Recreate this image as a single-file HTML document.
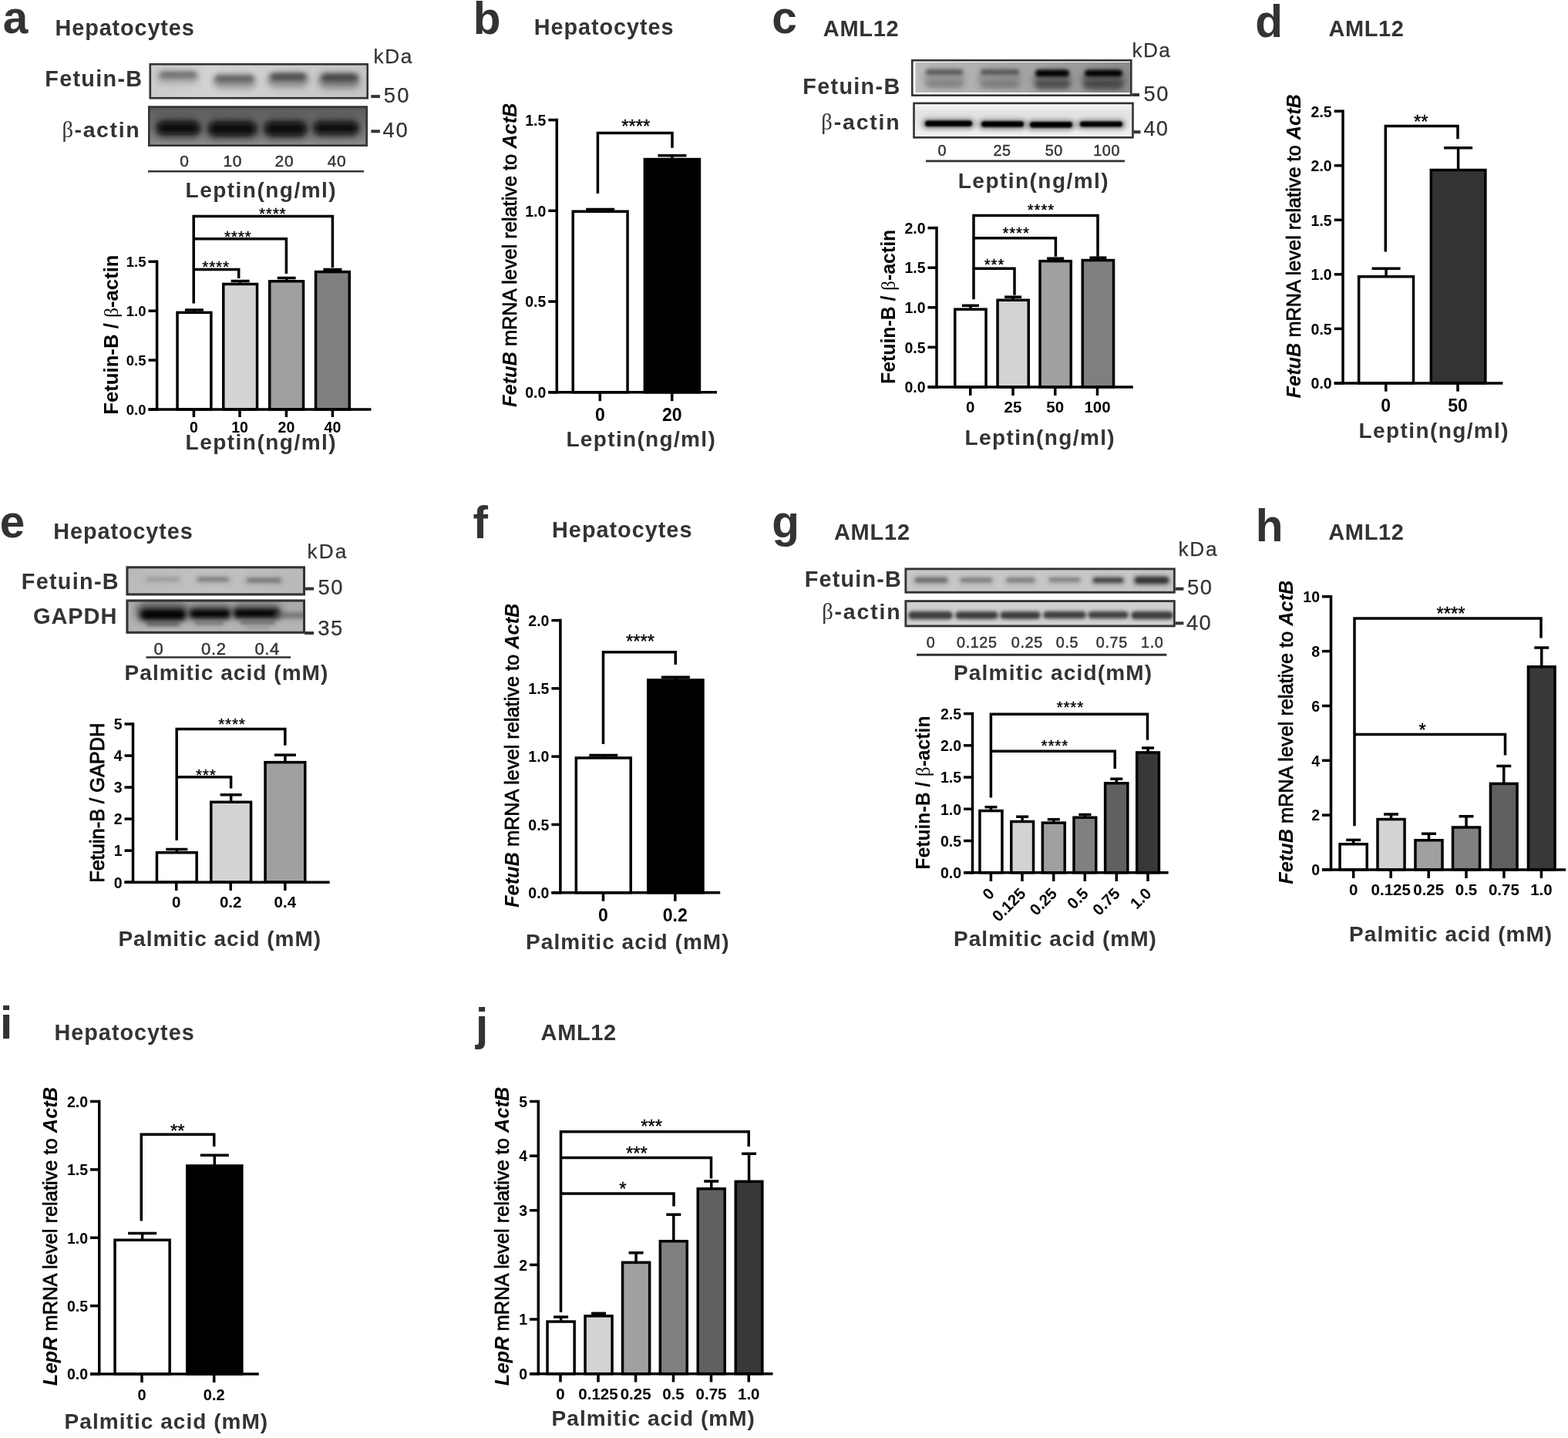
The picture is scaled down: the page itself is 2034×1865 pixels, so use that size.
<!DOCTYPE html>
<html><head><meta charset="utf-8"><title>Figure</title>
<style>
html,body{margin:0;padding:0;background:#fff;}
body{width:2034px;height:1865px;overflow:hidden;font-family:"Liberation Sans",sans-serif;}
svg{display:block}
text{white-space:pre}
</style></head><body>
<svg width="2034" height="1865" viewBox="0 0 2034 1865">
<defs>
<filter id="f1" x="-30%" y="-150%" width="160%" height="400%"><feGaussianBlur stdDeviation="1.3"/></filter>
<filter id="f2" x="-30%" y="-150%" width="160%" height="400%"><feGaussianBlur stdDeviation="2"/></filter>
<filter id="f3" x="-30%" y="-150%" width="160%" height="400%"><feGaussianBlur stdDeviation="3"/></filter>
<filter id="f4" x="-30%" y="-150%" width="160%" height="400%"><feGaussianBlur stdDeviation="4.5"/></filter>
</defs>
<rect width="2034" height="1865" fill="#fff"/>
<text x="3.75" y="43.30" font-size="58.50" fill="#333333" ><tspan font-family='"Liberation Sans", sans-serif' font-weight="bold">a</tspan></text>
<text x="613.70" y="43.80" font-size="58.50" fill="#333333" ><tspan font-family='"Liberation Sans", sans-serif' font-weight="bold">b</tspan></text>
<text x="1001.16" y="43.10" font-size="58.50" fill="#333333" ><tspan font-family='"Liberation Sans", sans-serif' font-weight="bold">c</tspan></text>
<text x="1628.36" y="48.30" font-size="58.50" fill="#333333" ><tspan font-family='"Liberation Sans", sans-serif' font-weight="bold">d</tspan></text>
<text x="-0.34" y="697.00" font-size="58.50" fill="#333333" ><tspan font-family='"Liberation Sans", sans-serif' font-weight="bold">e</tspan></text>
<text x="613.58" y="698.00" font-size="58.50" fill="#333333" ><tspan font-family='"Liberation Sans", sans-serif' font-weight="bold">f</tspan></text>
<text x="1001.26" y="696.80" font-size="58.50" fill="#333333" ><tspan font-family='"Liberation Sans", sans-serif' font-weight="bold">g</tspan></text>
<text x="1628.70" y="702.00" font-size="58.50" fill="#333333" ><tspan font-family='"Liberation Sans", sans-serif' font-weight="bold">h</tspan></text>
<text x="0.10" y="1347.30" font-size="58.50" fill="#333333" ><tspan font-family='"Liberation Sans", sans-serif' font-weight="bold">i</tspan></text>
<text x="616.88" y="1348.50" font-size="58.50" fill="#333333" ><tspan font-family='"Liberation Sans", sans-serif' font-weight="bold">j</tspan></text>
<text x="71.56" y="45.80" font-size="28.80" fill="#333333" textLength="180.15" lengthAdjust="spacing" ><tspan font-family='"Liberation Sans", sans-serif' font-weight="bold">Hepatocytes</tspan></text>
<text x="692.76" y="45.40" font-size="28.80" fill="#333333" textLength="180.65" lengthAdjust="spacing" ><tspan font-family='"Liberation Sans", sans-serif' font-weight="bold">Hepatocytes</tspan></text>
<text x="1067.78" y="47.10" font-size="29.00" fill="#333333" textLength="97.91" lengthAdjust="spacing" ><tspan font-family='"Liberation Sans", sans-serif' font-weight="bold">AML12</tspan></text>
<text x="1723.38" y="46.80" font-size="29.00" fill="#333333" textLength="97.61" lengthAdjust="spacing" ><tspan font-family='"Liberation Sans", sans-serif' font-weight="bold">AML12</tspan></text>
<text x="69.36" y="698.90" font-size="28.80" fill="#333333" textLength="180.35" lengthAdjust="spacing" ><tspan font-family='"Liberation Sans", sans-serif' font-weight="bold">Hepatocytes</tspan></text>
<text x="716.06" y="697.30" font-size="28.80" fill="#333333" textLength="181.35" lengthAdjust="spacing" ><tspan font-family='"Liberation Sans", sans-serif' font-weight="bold">Hepatocytes</tspan></text>
<text x="1081.88" y="699.70" font-size="29.00" fill="#333333" textLength="98.21" lengthAdjust="spacing" ><tspan font-family='"Liberation Sans", sans-serif' font-weight="bold">AML12</tspan></text>
<text x="1723.18" y="699.60" font-size="29.00" fill="#333333" textLength="97.81" lengthAdjust="spacing" ><tspan font-family='"Liberation Sans", sans-serif' font-weight="bold">AML12</tspan></text>
<text x="70.46" y="1349.40" font-size="28.80" fill="#333333" textLength="181.25" lengthAdjust="spacing" ><tspan font-family='"Liberation Sans", sans-serif' font-weight="bold">Hepatocytes</tspan></text>
<text x="701.57" y="1349.20" font-size="29.00" fill="#333333" textLength="97.61" lengthAdjust="spacing" ><tspan font-family='"Liberation Sans", sans-serif' font-weight="bold">AML12</tspan></text>
<text x="240.61" y="256.00" font-size="28.00" fill="#333333" textLength="194.98" lengthAdjust="spacing" ><tspan font-family='"Liberation Sans", sans-serif' font-weight="bold">Leptin(ng/ml)</tspan></text>
<text x="240.61" y="583.30" font-size="28.00" fill="#333333" textLength="194.98" lengthAdjust="spacing" ><tspan font-family='"Liberation Sans", sans-serif' font-weight="bold">Leptin(ng/ml)</tspan></text>
<text x="734.41" y="579.20" font-size="28.00" fill="#333333" textLength="193.38" lengthAdjust="spacing" ><tspan font-family='"Liberation Sans", sans-serif' font-weight="bold">Leptin(ng/ml)</tspan></text>
<text x="1242.81" y="243.90" font-size="28.00" fill="#333333" textLength="194.78" lengthAdjust="spacing" ><tspan font-family='"Liberation Sans", sans-serif' font-weight="bold">Leptin(ng/ml)</tspan></text>
<text x="1251.61" y="576.50" font-size="28.00" fill="#333333" textLength="194.08" lengthAdjust="spacing" ><tspan font-family='"Liberation Sans", sans-serif' font-weight="bold">Leptin(ng/ml)</tspan></text>
<text x="1762.61" y="567.50" font-size="28.00" fill="#333333" textLength="193.98" lengthAdjust="spacing" ><tspan font-family='"Liberation Sans", sans-serif' font-weight="bold">Leptin(ng/ml)</tspan></text>
<text x="161.61" y="882.20" font-size="28.00" fill="#333333" textLength="263.69" lengthAdjust="spacing" ><tspan font-family='"Liberation Sans", sans-serif' font-weight="bold">Palmitic acid (mM)</tspan></text>
<text x="153.41" y="1227.00" font-size="28.00" fill="#333333" textLength="262.69" lengthAdjust="spacing" ><tspan font-family='"Liberation Sans", sans-serif' font-weight="bold">Palmitic acid (mM)</tspan></text>
<text x="682.11" y="1230.60" font-size="28.00" fill="#333333" textLength="263.39" lengthAdjust="spacing" ><tspan font-family='"Liberation Sans", sans-serif' font-weight="bold">Palmitic acid (mM)</tspan></text>
<text x="1236.91" y="881.70" font-size="28.00" fill="#333333" textLength="257.28" lengthAdjust="spacing" ><tspan font-family='"Liberation Sans", sans-serif' font-weight="bold">Palmitic acid(mM)</tspan></text>
<text x="1237.11" y="1227.00" font-size="28.00" fill="#333333" textLength="262.79" lengthAdjust="spacing" ><tspan font-family='"Liberation Sans", sans-serif' font-weight="bold">Palmitic acid (mM)</tspan></text>
<text x="1750.11" y="1220.80" font-size="28.00" fill="#333333" textLength="263.09" lengthAdjust="spacing" ><tspan font-family='"Liberation Sans", sans-serif' font-weight="bold">Palmitic acid (mM)</tspan></text>
<text x="83.61" y="1853.30" font-size="28.00" fill="#333333" textLength="263.59" lengthAdjust="spacing" ><tspan font-family='"Liberation Sans", sans-serif' font-weight="bold">Palmitic acid (mM)</tspan></text>
<text x="715.61" y="1849.20" font-size="28.00" fill="#333333" textLength="263.29" lengthAdjust="spacing" ><tspan font-family='"Liberation Sans", sans-serif' font-weight="bold">Palmitic acid (mM)</tspan></text>
<text x="58.26" y="112.00" font-size="28.80" fill="#333333" textLength="125.83" lengthAdjust="spacing" ><tspan font-family='"Liberation Sans", sans-serif' font-weight="bold">Fetuin-B</tspan></text>
<text x="80.45" y="178.00" font-size="28.50" fill="#333333" textLength="100.12" lengthAdjust="spacing" ><tspan font-family='"Liberation Serif", serif' font-weight="normal">β</tspan><tspan font-family='"Liberation Sans", sans-serif' font-weight="bold">-actin</tspan></text>
<text x="1041.36" y="122.20" font-size="28.80" fill="#333333" textLength="125.83" lengthAdjust="spacing" ><tspan font-family='"Liberation Sans", sans-serif' font-weight="bold">Fetuin-B</tspan></text>
<text x="1065.35" y="167.50" font-size="28.50" fill="#333333" textLength="101.42" lengthAdjust="spacing" ><tspan font-family='"Liberation Serif", serif' font-weight="normal">β</tspan><tspan font-family='"Liberation Sans", sans-serif' font-weight="bold">-actin</tspan></text>
<text x="27.76" y="763.60" font-size="28.80" fill="#333333" textLength="125.83" lengthAdjust="spacing" ><tspan font-family='"Liberation Sans", sans-serif' font-weight="bold">Fetuin-B</tspan></text>
<text x="42.94" y="809.40" font-size="29.00" fill="#333333" textLength="108.49" lengthAdjust="spacing" ><tspan font-family='"Liberation Sans", sans-serif' font-weight="bold">GAPDH</tspan></text>
<text x="1043.86" y="761.40" font-size="28.80" fill="#333333" textLength="124.93" lengthAdjust="spacing" ><tspan font-family='"Liberation Sans", sans-serif' font-weight="bold">Fetuin-B</tspan></text>
<text x="1066.15" y="803.00" font-size="28.50" fill="#333333" textLength="101.62" lengthAdjust="spacing" ><tspan font-family='"Liberation Serif", serif' font-weight="normal">β</tspan><tspan font-family='"Liberation Sans", sans-serif' font-weight="bold">-actin</tspan></text>
<text x="484.43" y="82.10" font-size="26.20" fill="#333333" textLength="49.99" lengthAdjust="spacing" stroke="#333" stroke-width="0.25"><tspan font-family='"Liberation Sans", sans-serif' font-weight="normal">kDa</tspan></text>
<text x="497.80" y="132.50" font-size="27.40" fill="#333333" textLength="32.79" lengthAdjust="spacing" stroke="#333" stroke-width="0.25"><tspan font-family='"Liberation Sans", sans-serif' font-weight="normal">50</tspan></text>
<text x="496.48" y="177.90" font-size="27.40" fill="#333333" textLength="32.31" lengthAdjust="spacing" stroke="#333" stroke-width="0.25"><tspan font-family='"Liberation Sans", sans-serif' font-weight="normal">40</tspan></text>
<line x1="481.30" y1="125.10" x2="492.90" y2="125.10" stroke="#333333" stroke-width="4" stroke-linecap="butt"/>
<line x1="481.30" y1="170.30" x2="492.90" y2="170.30" stroke="#333333" stroke-width="4" stroke-linecap="butt"/>
<text x="1468.43" y="74.40" font-size="26.20" fill="#333333" textLength="49.39" lengthAdjust="spacing" stroke="#333" stroke-width="0.25"><tspan font-family='"Liberation Sans", sans-serif' font-weight="normal">kDa</tspan></text>
<text x="1483.50" y="130.80" font-size="27.40" fill="#333333" textLength="31.99" lengthAdjust="spacing" stroke="#333" stroke-width="0.25"><tspan font-family='"Liberation Sans", sans-serif' font-weight="normal">50</tspan></text>
<text x="1483.38" y="176.20" font-size="27.40" fill="#333333" textLength="31.71" lengthAdjust="spacing" stroke="#333" stroke-width="0.25"><tspan font-family='"Liberation Sans", sans-serif' font-weight="normal">40</tspan></text>
<line x1="1467.00" y1="123.00" x2="1478.00" y2="123.00" stroke="#333333" stroke-width="4" stroke-linecap="butt"/>
<line x1="1469.00" y1="171.20" x2="1479.50" y2="171.20" stroke="#333333" stroke-width="4" stroke-linecap="butt"/>
<text x="398.43" y="724.20" font-size="26.20" fill="#333333" textLength="50.99" lengthAdjust="spacing" stroke="#333" stroke-width="0.25"><tspan font-family='"Liberation Sans", sans-serif' font-weight="normal">kDa</tspan></text>
<text x="412.40" y="770.80" font-size="27.40" fill="#333333" textLength="31.99" lengthAdjust="spacing" stroke="#333" stroke-width="0.25"><tspan font-family='"Liberation Sans", sans-serif' font-weight="normal">50</tspan></text>
<text x="412.27" y="824.20" font-size="27.40" fill="#333333" textLength="31.89" lengthAdjust="spacing" stroke="#333" stroke-width="0.25"><tspan font-family='"Liberation Sans", sans-serif' font-weight="normal">35</tspan></text>
<line x1="395.00" y1="763.60" x2="407.00" y2="763.60" stroke="#333333" stroke-width="4" stroke-linecap="butt"/>
<line x1="395.00" y1="821.00" x2="407.00" y2="821.00" stroke="#333333" stroke-width="4" stroke-linecap="butt"/>
<text x="1528.43" y="721.00" font-size="26.20" fill="#333333" textLength="50.19" lengthAdjust="spacing" stroke="#333" stroke-width="0.25"><tspan font-family='"Liberation Sans", sans-serif' font-weight="normal">kDa</tspan></text>
<text x="1539.90" y="771.20" font-size="27.40" fill="#333333" textLength="32.19" lengthAdjust="spacing" stroke="#333" stroke-width="0.25"><tspan font-family='"Liberation Sans", sans-serif' font-weight="normal">50</tspan></text>
<text x="1539.08" y="816.60" font-size="27.40" fill="#333333" textLength="31.71" lengthAdjust="spacing" stroke="#333" stroke-width="0.25"><tspan font-family='"Liberation Sans", sans-serif' font-weight="normal">40</tspan></text>
<line x1="1523.50" y1="763.70" x2="1535.40" y2="763.70" stroke="#333333" stroke-width="4" stroke-linecap="butt"/>
<line x1="1523.50" y1="808.30" x2="1535.40" y2="808.30" stroke="#333333" stroke-width="4" stroke-linecap="butt"/>
<text x="239.30" y="216.00" font-size="21.00" font-family='"Liberation Sans", sans-serif' font-weight="normal" fill="#333333" text-anchor="middle" letter-spacing="0.6" stroke="#333" stroke-width="0.45">0</text>
<text x="301.70" y="216.00" font-size="21.00" font-family='"Liberation Sans", sans-serif' font-weight="normal" fill="#333333" text-anchor="middle" letter-spacing="0.6" stroke="#333" stroke-width="0.45">10</text>
<text x="368.90" y="216.00" font-size="21.00" font-family='"Liberation Sans", sans-serif' font-weight="normal" fill="#333333" text-anchor="middle" letter-spacing="0.6" stroke="#333" stroke-width="0.45">20</text>
<text x="437.00" y="216.00" font-size="21.00" font-family='"Liberation Sans", sans-serif' font-weight="normal" fill="#333333" text-anchor="middle" letter-spacing="0.6" stroke="#333" stroke-width="0.45">40</text>
<line x1="192.00" y1="222.20" x2="472.00" y2="222.20" stroke="#333333" stroke-width="2.4" stroke-linecap="butt"/>
<text x="1222.30" y="202.20" font-size="19.80" font-family='"Liberation Sans", sans-serif' font-weight="normal" fill="#333333" text-anchor="middle" letter-spacing="0.6" stroke="#333" stroke-width="0.45">0</text>
<text x="1300.00" y="202.20" font-size="19.80" font-family='"Liberation Sans", sans-serif' font-weight="normal" fill="#333333" text-anchor="middle" letter-spacing="0.6" stroke="#333" stroke-width="0.45">25</text>
<text x="1367.30" y="202.20" font-size="19.80" font-family='"Liberation Sans", sans-serif' font-weight="normal" fill="#333333" text-anchor="middle" letter-spacing="0.6" stroke="#333" stroke-width="0.45">50</text>
<text x="1435.60" y="202.20" font-size="19.80" font-family='"Liberation Sans", sans-serif' font-weight="normal" fill="#333333" text-anchor="middle" letter-spacing="0.6" stroke="#333" stroke-width="0.45">100</text>
<line x1="1201.00" y1="208.90" x2="1459.00" y2="208.90" stroke="#333333" stroke-width="2.9" stroke-linecap="butt"/>
<text x="205.90" y="848.50" font-size="22.00" font-family='"Liberation Sans", sans-serif' font-weight="normal" fill="#333333" text-anchor="middle" letter-spacing="0.6" stroke="#333" stroke-width="0.45">0</text>
<text x="277.30" y="848.50" font-size="22.00" font-family='"Liberation Sans", sans-serif' font-weight="normal" fill="#333333" text-anchor="middle" letter-spacing="0.6" stroke="#333" stroke-width="0.45">0.2</text>
<text x="346.70" y="848.50" font-size="22.00" font-family='"Liberation Sans", sans-serif' font-weight="normal" fill="#333333" text-anchor="middle" letter-spacing="0.6" stroke="#333" stroke-width="0.45">0.4</text>
<line x1="189.40" y1="852.50" x2="377.20" y2="852.50" stroke="#333333" stroke-width="2.4" stroke-linecap="butt"/>
<text x="1207.50" y="840.10" font-size="19.80" font-family='"Liberation Sans", sans-serif' font-weight="normal" fill="#333333" text-anchor="middle" letter-spacing="0.6" stroke="#333" stroke-width="0.45">0</text>
<text x="1267.30" y="840.10" font-size="19.80" font-family='"Liberation Sans", sans-serif' font-weight="normal" fill="#333333" text-anchor="middle" letter-spacing="0.6" stroke="#333" stroke-width="0.45">0.125</text>
<text x="1332.30" y="840.10" font-size="19.80" font-family='"Liberation Sans", sans-serif' font-weight="normal" fill="#333333" text-anchor="middle" letter-spacing="0.6" stroke="#333" stroke-width="0.45">0.25</text>
<text x="1384.50" y="840.10" font-size="19.80" font-family='"Liberation Sans", sans-serif' font-weight="normal" fill="#333333" text-anchor="middle" letter-spacing="0.6" stroke="#333" stroke-width="0.45">0.5</text>
<text x="1442.30" y="840.10" font-size="19.80" font-family='"Liberation Sans", sans-serif' font-weight="normal" fill="#333333" text-anchor="middle" letter-spacing="0.6" stroke="#333" stroke-width="0.45">0.75</text>
<text x="1494.70" y="840.10" font-size="19.80" font-family='"Liberation Sans", sans-serif' font-weight="normal" fill="#333333" text-anchor="middle" letter-spacing="0.6" stroke="#333" stroke-width="0.45">1.0</text>
<line x1="1189.00" y1="849.20" x2="1513.30" y2="849.20" stroke="#333333" stroke-width="2.9" stroke-linecap="butt"/>
<clipPath id="cpa1"><rect x="193.5" y="82" width="284.50" height="46.50"/></clipPath>
<linearGradient id="gra1" x1="0" y1="0" x2="1" y2="0"><stop offset="0" stop-color="#cbcbcb"/><stop offset="0.3" stop-color="#d3d3d3"/><stop offset="1" stop-color="#c4c4c4"/></linearGradient>
<rect x="193.50" y="82.00" width="284.50" height="46.50" fill="url(#gra1)" stroke="none" stroke-width="0" />
<g clip-path="url(#cpa1)">
<rect x="204.0" y="92.0" width="54.0" height="16.0" rx="8.0" fill="#8a8a8a" opacity="0.6" filter="url(#f4)"/>
<rect x="207.0" y="93.5" width="48.0" height="7.0" rx="3.5" fill="#555" opacity="0.8" filter="url(#f3)"/>
<rect x="276.0" y="97.0" width="56.0" height="18.0" rx="9.0" fill="#7c7c7c" opacity="0.65" filter="url(#f4)"/>
<rect x="279.0" y="98.0" width="50.0" height="8.0" rx="4.0" fill="#4c4c4c" opacity="0.8" filter="url(#f3)"/>
<rect x="347.0" y="95.0" width="53.0" height="18.0" rx="9.0" fill="#707070" opacity="0.7" filter="url(#f4)"/>
<rect x="351.0" y="95.5" width="46.0" height="8.0" rx="4.0" fill="#3a3a3a" opacity="0.9" filter="url(#f3)"/>
<rect x="413.0" y="95.5" width="54.0" height="19.0" rx="9.5" fill="#686868" opacity="0.75" filter="url(#f4)"/>
<rect x="417.0" y="96.0" width="47.0" height="9.0" rx="4.5" fill="#3a3a3a" opacity="0.9" filter="url(#f3)"/>
</g>
<rect x="194.80" y="83.30" width="281.90" height="43.90" fill="none" stroke="#333333" stroke-width="2.6" />
<clipPath id="cpa2"><rect x="192" y="137.5" width="285.00" height="52.50"/></clipPath>
<linearGradient id="gra2" x1="0" y1="0" x2="0" y2="1"><stop offset="0" stop-color="#585858"/><stop offset="0.25" stop-color="#666"/><stop offset="0.75" stop-color="#7e7e7e"/><stop offset="1" stop-color="#8e8e8e"/></linearGradient>
<rect x="192.00" y="137.50" width="285.00" height="52.50" fill="url(#gra2)" stroke="none" stroke-width="0" />
<g clip-path="url(#cpa2)">
<rect x="200.0" y="153.5" width="62.0" height="25.0" rx="12.5" fill="#2a2a2a" opacity="0.75" filter="url(#f4)"/>
<rect x="205.0" y="159.0" width="53.0" height="14.0" rx="7.0" fill="#0c0c0c" opacity="1" filter="url(#f3)"/>
<rect x="267.0" y="154.0" width="69.0" height="26.0" rx="13.0" fill="#2a2a2a" opacity="0.75" filter="url(#f4)"/>
<rect x="272.0" y="159.5" width="59.0" height="15.0" rx="7.5" fill="#0c0c0c" opacity="1" filter="url(#f3)"/>
<rect x="340.0" y="154.0" width="61.0" height="26.0" rx="13.0" fill="#2a2a2a" opacity="0.75" filter="url(#f4)"/>
<rect x="345.0" y="159.5" width="51.0" height="15.0" rx="7.5" fill="#0c0c0c" opacity="1" filter="url(#f3)"/>
<rect x="404.0" y="154.0" width="64.0" height="24.0" rx="12.0" fill="#2a2a2a" opacity="0.75" filter="url(#f4)"/>
<rect x="409.0" y="159.5" width="54.0" height="13.0" rx="6.5" fill="#0e0e0e" opacity="1" filter="url(#f3)"/>
</g>
<rect x="193.30" y="138.80" width="282.40" height="49.90" fill="none" stroke="#333333" stroke-width="2.6" />
<clipPath id="cpc1"><rect x="1187.5" y="81" width="278.80" height="39.00"/></clipPath>
<rect x="1182.00" y="77.00" width="286.60" height="48.00" fill="#fff" stroke="none" stroke-width="0" />
<linearGradient id="grc1" x1="0" y1="0" x2="1" y2="0"><stop offset="0" stop-color="#bcbcbc"/><stop offset="0.45" stop-color="#a8a8a8"/><stop offset="0.75" stop-color="#9a9a9a"/><stop offset="1" stop-color="#8a8a8a"/></linearGradient>
<rect x="1187.50" y="81.00" width="278.80" height="39.00" fill="url(#grc1)" stroke="none" stroke-width="0" />
<g clip-path="url(#cpc1)">
<rect x="1198.0" y="89.0" width="54.0" height="24.0" rx="12.0" fill="#777" opacity="0.5" filter="url(#f4)"/>
<rect x="1201.0" y="90.2" width="48.0" height="6.5" rx="3.2" fill="#4a4a4a" opacity="0.8" filter="url(#f2)"/>
<rect x="1201.0" y="105.0" width="48.0" height="8.0" rx="4.0" fill="#707070" opacity="0.6" filter="url(#f3)"/>
<rect x="1269.0" y="89.0" width="56.0" height="24.0" rx="12.0" fill="#777" opacity="0.5" filter="url(#f4)"/>
<rect x="1272.0" y="90.2" width="50.0" height="6.5" rx="3.2" fill="#484848" opacity="0.8" filter="url(#f2)"/>
<rect x="1272.0" y="105.5" width="50.0" height="8.0" rx="4.0" fill="#6a6a6a" opacity="0.6" filter="url(#f3)"/>
<rect x="1340.0" y="92.0" width="50.0" height="24.0" rx="12.0" fill="#555" opacity="0.6" filter="url(#f4)"/>
<rect x="1343.0" y="90.5" width="44.0" height="9.0" rx="4.5" fill="#000" opacity="1" filter="url(#f2)"/>
<rect x="1343.0" y="104.0" width="45.0" height="10.0" rx="5.0" fill="#3a3a3a" opacity="0.7" filter="url(#f3)"/>
<rect x="1403.0" y="92.0" width="56.0" height="24.0" rx="12.0" fill="#505050" opacity="0.65" filter="url(#f4)"/>
<rect x="1407.0" y="90.8" width="49.0" height="8.5" rx="4.2" fill="#000" opacity="1" filter="url(#f2)"/>
<rect x="1406.0" y="103.5" width="51.0" height="11.0" rx="5.5" fill="#3a3a3a" opacity="0.7" filter="url(#f3)"/>
</g>
<rect x="1183.30" y="78.30" width="284.00" height="45.40" fill="none" stroke="#333333" stroke-width="2.6" />
<clipPath id="cpc2"><rect x="1184.2" y="132.6" width="286.60" height="47.00"/></clipPath>
<linearGradient id="grc2" x1="0" y1="0" x2="0" y2="1"><stop offset="0" stop-color="#fafafa"/><stop offset="0.3" stop-color="#e2e2e2"/><stop offset="0.7" stop-color="#ebebeb"/><stop offset="1" stop-color="#f6f6f6"/></linearGradient>
<rect x="1184.20" y="132.60" width="286.60" height="47.00" fill="url(#grc2)" stroke="none" stroke-width="0" />
<g clip-path="url(#cpc2)">
<rect x="1196.0" y="154.0" width="69.0" height="13.0" rx="6.5" fill="#333" opacity="0.55" filter="url(#f3)"/>
<rect x="1200.0" y="156.6" width="61.0" height="7.5" rx="3.8" fill="#000" opacity="1" filter="url(#f1)"/>
<rect x="1269.0" y="154.7" width="63.0" height="13.0" rx="6.5" fill="#333" opacity="0.55" filter="url(#f3)"/>
<rect x="1273.0" y="157.2" width="55.0" height="7.5" rx="3.8" fill="#000" opacity="1" filter="url(#f1)"/>
<rect x="1332.0" y="155.5" width="63.0" height="13.0" rx="6.5" fill="#333" opacity="0.55" filter="url(#f3)"/>
<rect x="1336.0" y="158.1" width="55.0" height="7.5" rx="3.8" fill="#000" opacity="1" filter="url(#f1)"/>
<rect x="1397.0" y="155.2" width="63.0" height="12.0" rx="6.0" fill="#333" opacity="0.55" filter="url(#f3)"/>
<rect x="1401.0" y="157.5" width="55.0" height="7.0" rx="3.5" fill="#000" opacity="1" filter="url(#f1)"/>
</g>
<rect x="1185.50" y="133.90" width="284.00" height="44.40" fill="none" stroke="#333333" stroke-width="2.6" />
<clipPath id="cpe1"><rect x="163.5" y="734.3" width="232.50" height="38.10"/></clipPath>
<linearGradient id="gre1" x1="0" y1="0" x2="1" y2="0"><stop offset="0" stop-color="#bababa"/><stop offset="0.5" stop-color="#c2c2c2"/><stop offset="1" stop-color="#b8b8b8"/></linearGradient>
<rect x="163.50" y="734.30" width="232.50" height="38.10" fill="url(#gre1)" stroke="none" stroke-width="0" />
<g clip-path="url(#cpe1)">
<rect x="188.0" y="748.0" width="47.0" height="8.0" rx="4.0" fill="#a0a0a0" opacity="0.6" filter="url(#f3)"/>
<rect x="191.0" y="749.2" width="41.0" height="3.5" rx="1.8" fill="#909090" opacity="0.7" filter="url(#f2)"/>
<rect x="253.0" y="747.5" width="47.0" height="9.0" rx="4.5" fill="#909090" opacity="0.6" filter="url(#f3)"/>
<rect x="257.0" y="749.3" width="39.0" height="4.0" rx="2.0" fill="#6c6c6c" opacity="0.8" filter="url(#f2)"/>
<rect x="317.0" y="748.5" width="51.0" height="9.0" rx="4.5" fill="#8c8c8c" opacity="0.6" filter="url(#f3)"/>
<rect x="321.0" y="750.5" width="43.0" height="4.0" rx="2.0" fill="#646464" opacity="0.85" filter="url(#f2)"/>
</g>
<rect x="165.00" y="735.80" width="229.50" height="35.10" fill="none" stroke="#333333" stroke-width="3" />
<clipPath id="cpe2"><rect x="163.5" y="777.5" width="232.50" height="44.30"/></clipPath>
<linearGradient id="gre2" x1="0" y1="0" x2="0" y2="1"><stop offset="0" stop-color="#a8a8a8"/><stop offset="1" stop-color="#b6b6b6"/></linearGradient>
<rect x="163.50" y="777.50" width="232.50" height="44.30" fill="url(#gre2)" stroke="none" stroke-width="0" />
<g clip-path="url(#cpe2)">
<rect x="176.0" y="781.0" width="70.0" height="26.0" rx="13.0" fill="#404040" opacity="0.7" filter="url(#f4)"/>
<rect x="182.0" y="790.5" width="59.0" height="13.0" rx="6.5" fill="#000" opacity="1" filter="url(#f3)"/>
<rect x="190.0" y="807.5" width="43.0" height="4.0" rx="2.0" fill="#333" opacity="0.7" filter="url(#f2)"/>
<rect x="243.0" y="783.0" width="59.0" height="22.0" rx="11.0" fill="#484848" opacity="0.65" filter="url(#f4)"/>
<rect x="246.0" y="790.5" width="53.0" height="11.0" rx="5.5" fill="#050505" opacity="1" filter="url(#f3)"/>
<rect x="252.0" y="806.8" width="38.0" height="3.5" rx="1.8" fill="#4a4a4a" opacity="0.6" filter="url(#f2)"/>
<rect x="300.0" y="782.0" width="66.0" height="22.0" rx="11.0" fill="#484848" opacity="0.65" filter="url(#f4)"/>
<rect x="303.0" y="790.0" width="59.0" height="11.0" rx="5.5" fill="#050505" opacity="1" filter="url(#f3)"/>
<rect x="312.0" y="805.5" width="45.0" height="4.0" rx="2.0" fill="#444" opacity="0.65" filter="url(#f2)"/>
<rect x="318.0" y="812.5" width="32.0" height="3.0" rx="1.5" fill="#777" opacity="0.5" filter="url(#f2)"/>
<rect x="355.0" y="795.0" width="43.0" height="6.0" rx="3.0" fill="#505050" opacity="0.8" filter="url(#f3)"/>
</g>
<rect x="165.00" y="779.00" width="229.50" height="41.30" fill="none" stroke="#333333" stroke-width="3" />
<clipPath id="cpg1"><rect x="1173.5" y="736.5" width="351.20" height="33.10"/></clipPath>
<rect x="1173.50" y="736.50" width="351.20" height="33.10" fill="#c8c8c8" stroke="none" stroke-width="0" />
<g clip-path="url(#cpg1)">
<rect x="1184.0" y="747.0" width="48.0" height="12.0" rx="6.0" fill="#909090" opacity="0.55" filter="url(#f3)"/>
<rect x="1187.0" y="749.5" width="42.0" height="5.5" rx="2.8" fill="#5c5c5c" opacity="0.85" filter="url(#f2)"/>
<rect x="1243.0" y="747.5" width="47.0" height="11.0" rx="5.5" fill="#9a9a9a" opacity="0.5" filter="url(#f3)"/>
<rect x="1246.0" y="749.7" width="41.0" height="5.0" rx="2.5" fill="#707070" opacity="0.85" filter="url(#f2)"/>
<rect x="1303.0" y="747.5" width="42.0" height="11.0" rx="5.5" fill="#9a9a9a" opacity="0.5" filter="url(#f3)"/>
<rect x="1306.0" y="749.7" width="36.0" height="5.0" rx="2.5" fill="#6e6e6e" opacity="0.85" filter="url(#f2)"/>
<rect x="1358.0" y="748.0" width="46.0" height="10.0" rx="5.0" fill="#9a9a9a" opacity="0.5" filter="url(#f3)"/>
<rect x="1361.0" y="749.5" width="40.0" height="4.5" rx="2.2" fill="#707070" opacity="0.85" filter="url(#f2)"/>
<rect x="1415.0" y="747.5" width="45.0" height="11.0" rx="5.5" fill="#808080" opacity="0.55" filter="url(#f3)"/>
<rect x="1418.0" y="749.5" width="39.0" height="6.0" rx="3.0" fill="#3c3c3c" opacity="1" filter="url(#f2)"/>
<rect x="1469.0" y="746.5" width="50.0" height="13.0" rx="6.5" fill="#707070" opacity="0.6" filter="url(#f3)"/>
<rect x="1472.0" y="748.2" width="44.0" height="8.5" rx="4.2" fill="#363636" opacity="1" filter="url(#f2)"/>
</g>
<rect x="1174.90" y="737.90" width="348.40" height="30.30" fill="none" stroke="#333333" stroke-width="2.8" />
<clipPath id="cpg2"><rect x="1173.5" y="778.2" width="351.20" height="35.10"/></clipPath>
<rect x="1173.50" y="778.20" width="351.20" height="35.10" fill="#d0d0d0" stroke="none" stroke-width="0" />
<g clip-path="url(#cpg2)">
<rect x="1178.0" y="792.8" width="58.0" height="10.5" rx="5.2" fill="#3e3e3e" opacity="1" filter="url(#f2)"/>
<rect x="1239.0" y="793.0" width="56.0" height="10.0" rx="5.0" fill="#3e3e3e" opacity="1" filter="url(#f2)"/>
<rect x="1297.0" y="793.0" width="53.0" height="10.0" rx="5.0" fill="#3e3e3e" opacity="1" filter="url(#f2)"/>
<rect x="1353.0" y="792.8" width="56.0" height="9.5" rx="4.8" fill="#3e3e3e" opacity="1" filter="url(#f2)"/>
<rect x="1411.0" y="792.8" width="53.0" height="9.5" rx="4.8" fill="#424242" opacity="1" filter="url(#f2)"/>
<rect x="1467.0" y="792.8" width="55.0" height="10.5" rx="5.2" fill="#3e3e3e" opacity="1" filter="url(#f2)"/>
</g>
<rect x="1174.90" y="779.60" width="348.40" height="32.30" fill="none" stroke="#333333" stroke-width="2.8" />
<line x1="251.95" y1="405.35" x2="251.95" y2="402.00" stroke="#000" stroke-width="3.5" stroke-linecap="butt"/>
<line x1="239.95" y1="402.00" x2="263.95" y2="402.00" stroke="#000" stroke-width="3.5" stroke-linecap="butt"/>
<rect x="230.05" y="405.35" width="43.80" height="125.65" fill="#fff" stroke="#000" stroke-width="3.5" />
<line x1="311.65" y1="368.45" x2="311.65" y2="364.50" stroke="#000" stroke-width="3.5" stroke-linecap="butt"/>
<line x1="299.65" y1="364.50" x2="323.65" y2="364.50" stroke="#000" stroke-width="3.5" stroke-linecap="butt"/>
<rect x="289.75" y="368.45" width="43.80" height="162.55" fill="#d3d3d3" stroke="#000" stroke-width="3.5" />
<line x1="371.65" y1="364.75" x2="371.65" y2="360.50" stroke="#000" stroke-width="3.5" stroke-linecap="butt"/>
<line x1="359.65" y1="360.50" x2="383.65" y2="360.50" stroke="#000" stroke-width="3.5" stroke-linecap="butt"/>
<rect x="349.75" y="364.75" width="43.80" height="166.25" fill="#a0a0a0" stroke="#000" stroke-width="3.5" />
<line x1="431.40" y1="352.55" x2="431.40" y2="349.50" stroke="#000" stroke-width="3.5" stroke-linecap="butt"/>
<line x1="419.40" y1="349.50" x2="443.40" y2="349.50" stroke="#000" stroke-width="3.5" stroke-linecap="butt"/>
<rect x="409.55" y="352.55" width="43.70" height="178.45" fill="#7f7f7f" stroke="#000" stroke-width="3.5" />
<line x1="203.60" y1="337.55" x2="203.60" y2="532.75" stroke="#000" stroke-width="3.5" stroke-linecap="butt"/>
<line x1="192.50" y1="531.00" x2="481.40" y2="531.00" stroke="#000" stroke-width="3.5" stroke-linecap="butt"/>
<line x1="192.50" y1="339.30" x2="203.60" y2="339.30" stroke="#000" stroke-width="3.5" stroke-linecap="butt"/>
<text x="189.50" y="346.24" font-size="18.50" font-family='"Liberation Sans", sans-serif' font-weight="bold" fill="#000" text-anchor="end" >1.5</text>
<line x1="192.50" y1="403.20" x2="203.60" y2="403.20" stroke="#000" stroke-width="3.5" stroke-linecap="butt"/>
<text x="189.50" y="410.14" font-size="18.50" font-family='"Liberation Sans", sans-serif' font-weight="bold" fill="#000" text-anchor="end" >1.0</text>
<line x1="192.50" y1="467.10" x2="203.60" y2="467.10" stroke="#000" stroke-width="3.5" stroke-linecap="butt"/>
<text x="189.50" y="474.04" font-size="18.50" font-family='"Liberation Sans", sans-serif' font-weight="bold" fill="#000" text-anchor="end" >0.5</text>
<line x1="192.50" y1="531.00" x2="203.60" y2="531.00" stroke="#000" stroke-width="3.5" stroke-linecap="butt"/>
<text x="189.50" y="537.94" font-size="18.50" font-family='"Liberation Sans", sans-serif' font-weight="bold" fill="#000" text-anchor="end" >0.0</text>
<line x1="251.40" y1="531.00" x2="251.40" y2="541.00" stroke="#000" stroke-width="3.5" stroke-linecap="butt"/>
<text x="251.40" y="560.50" font-size="19.50" font-family='"Liberation Sans", sans-serif' font-weight="bold" fill="#000" text-anchor="middle" >0</text>
<line x1="311.00" y1="531.00" x2="311.00" y2="541.00" stroke="#000" stroke-width="3.5" stroke-linecap="butt"/>
<text x="311.00" y="560.50" font-size="19.50" font-family='"Liberation Sans", sans-serif' font-weight="bold" fill="#000" text-anchor="middle" >10</text>
<line x1="371.40" y1="531.00" x2="371.40" y2="541.00" stroke="#000" stroke-width="3.5" stroke-linecap="butt"/>
<text x="371.40" y="560.50" font-size="19.50" font-family='"Liberation Sans", sans-serif' font-weight="bold" fill="#000" text-anchor="middle" >20</text>
<line x1="431.40" y1="531.00" x2="431.40" y2="541.00" stroke="#000" stroke-width="3.5" stroke-linecap="butt"/>
<text x="431.40" y="560.50" font-size="19.50" font-family='"Liberation Sans", sans-serif' font-weight="bold" fill="#000" text-anchor="middle" >40</text>
<path d="M251.20 393.50 V280.50 H431.40 V347.00" fill="none" stroke="#000" stroke-width="3.5" stroke-linejoin="miter"/>
<path d="M251.20 309.80 H371.40 V355.00" fill="none" stroke="#000" stroke-width="3.5" stroke-linejoin="miter"/>
<path d="M251.20 349.60 H309.70 V361.00" fill="none" stroke="#000" stroke-width="3.5" stroke-linejoin="miter"/>
<text x="353.65" y="284.36" font-size="21.00" font-family='"Liberation Sans", sans-serif' font-weight="normal" fill="#000" text-anchor="middle" stroke="#000" stroke-width="0.35" letter-spacing="0.7">****</text>
<text x="308.65" y="313.56" font-size="21.00" font-family='"Liberation Sans", sans-serif' font-weight="normal" fill="#000" text-anchor="middle" stroke="#000" stroke-width="0.35" letter-spacing="0.7">****</text>
<text x="280.05" y="353.06" font-size="21.00" font-family='"Liberation Sans", sans-serif' font-weight="normal" fill="#000" text-anchor="middle" stroke="#000" stroke-width="0.35" letter-spacing="0.7">****</text>
<text transform="translate(152.50,536.00) rotate(-90)" x="-1.74" y="0" font-size="25.00" fill="#000" textLength="207.33" lengthAdjust="spacingAndGlyphs" ><tspan font-family='"Liberation Sans", sans-serif' font-weight="bold">Fetuin-B / </tspan><tspan font-family='"Liberation Serif", serif' font-weight="normal">β</tspan><tspan font-family='"Liberation Sans", sans-serif' font-weight="bold">-actin</tspan></text>
<line x1="778.65" y1="274.25" x2="778.65" y2="271.50" stroke="#000" stroke-width="3.5" stroke-linecap="butt"/>
<line x1="760.15" y1="271.50" x2="797.15" y2="271.50" stroke="#000" stroke-width="3.5" stroke-linecap="butt"/>
<rect x="743.25" y="274.25" width="70.80" height="234.50" fill="#fff" stroke="#000" stroke-width="3.5" />
<line x1="871.90" y1="206.55" x2="871.90" y2="201.70" stroke="#000" stroke-width="3.5" stroke-linecap="butt"/>
<line x1="853.40" y1="201.70" x2="890.40" y2="201.70" stroke="#000" stroke-width="3.5" stroke-linecap="butt"/>
<rect x="836.35" y="206.55" width="71.10" height="302.20" fill="#000" stroke="#000" stroke-width="3.5" />
<line x1="722.30" y1="153.85" x2="722.30" y2="510.50" stroke="#000" stroke-width="3.5" stroke-linecap="butt"/>
<line x1="711.30" y1="508.75" x2="930.00" y2="508.75" stroke="#000" stroke-width="3.5" stroke-linecap="butt"/>
<line x1="711.30" y1="155.60" x2="722.30" y2="155.60" stroke="#000" stroke-width="3.5" stroke-linecap="butt"/>
<text x="708.30" y="162.91" font-size="19.50" font-family='"Liberation Sans", sans-serif' font-weight="bold" fill="#000" text-anchor="end" >1.5</text>
<line x1="711.30" y1="273.32" x2="722.30" y2="273.32" stroke="#000" stroke-width="3.5" stroke-linecap="butt"/>
<text x="708.30" y="280.63" font-size="19.50" font-family='"Liberation Sans", sans-serif' font-weight="bold" fill="#000" text-anchor="end" >1.0</text>
<line x1="711.30" y1="391.03" x2="722.30" y2="391.03" stroke="#000" stroke-width="3.5" stroke-linecap="butt"/>
<text x="708.30" y="398.35" font-size="19.50" font-family='"Liberation Sans", sans-serif' font-weight="bold" fill="#000" text-anchor="end" >0.5</text>
<line x1="711.30" y1="508.75" x2="722.30" y2="508.75" stroke="#000" stroke-width="3.5" stroke-linecap="butt"/>
<text x="708.30" y="516.06" font-size="19.50" font-family='"Liberation Sans", sans-serif' font-weight="bold" fill="#000" text-anchor="end" >0.0</text>
<line x1="778.30" y1="508.75" x2="778.30" y2="520.20" stroke="#000" stroke-width="3.5" stroke-linecap="butt"/>
<text x="778.30" y="545.80" font-size="23.00" font-family='"Liberation Sans", sans-serif' font-weight="bold" fill="#000" text-anchor="middle" >0</text>
<line x1="871.70" y1="508.75" x2="871.70" y2="520.20" stroke="#000" stroke-width="3.5" stroke-linecap="butt"/>
<text x="871.70" y="545.80" font-size="23.00" font-family='"Liberation Sans", sans-serif' font-weight="bold" fill="#000" text-anchor="middle" >20</text>
<path d="M775.40 251.00 V172.50 H872.00 V191.70" fill="none" stroke="#000" stroke-width="3.5" stroke-linejoin="miter"/>
<text x="824.80" y="171.60" font-size="23.80" font-family='"Liberation Sans", sans-serif' font-weight="normal" fill="#000" text-anchor="middle" stroke="#000" stroke-width="0.35" letter-spacing="0">****</text>
<text transform="translate(669.60,527.50) rotate(-90)" x="-0.44" y="0" font-size="26.20" fill="#000" textLength="394.36" lengthAdjust="spacingAndGlyphs" ><tspan font-family='"Liberation Sans", sans-serif' font-weight="bold" font-style="italic">FetuB</tspan><tspan font-family='"Liberation Sans", sans-serif' font-weight="normal" stroke="#000" stroke-width="0.7"> mRNA level relative to </tspan><tspan font-family='"Liberation Sans", sans-serif' font-weight="bold" font-style="italic">ActB</tspan></text>
<line x1="1258.90" y1="401.15" x2="1258.90" y2="396.30" stroke="#000" stroke-width="3.5" stroke-linecap="butt"/>
<line x1="1247.90" y1="396.30" x2="1269.90" y2="396.30" stroke="#000" stroke-width="3.5" stroke-linecap="butt"/>
<rect x="1238.75" y="401.15" width="40.30" height="100.75" fill="#fff" stroke="#000" stroke-width="3.5" />
<line x1="1314.15" y1="389.25" x2="1314.15" y2="385.20" stroke="#000" stroke-width="3.5" stroke-linecap="butt"/>
<line x1="1303.15" y1="385.20" x2="1325.15" y2="385.20" stroke="#000" stroke-width="3.5" stroke-linecap="butt"/>
<rect x="1294.05" y="389.25" width="40.20" height="112.65" fill="#d3d3d3" stroke="#000" stroke-width="3.5" />
<line x1="1369.15" y1="338.65" x2="1369.15" y2="335.20" stroke="#000" stroke-width="3.5" stroke-linecap="butt"/>
<line x1="1358.15" y1="335.20" x2="1380.15" y2="335.20" stroke="#000" stroke-width="3.5" stroke-linecap="butt"/>
<rect x="1349.05" y="338.65" width="40.20" height="163.25" fill="#a0a0a0" stroke="#000" stroke-width="3.5" />
<line x1="1424.40" y1="337.55" x2="1424.40" y2="334.20" stroke="#000" stroke-width="3.5" stroke-linecap="butt"/>
<line x1="1413.40" y1="334.20" x2="1435.40" y2="334.20" stroke="#000" stroke-width="3.5" stroke-linecap="butt"/>
<rect x="1404.25" y="337.55" width="40.30" height="164.35" fill="#7f7f7f" stroke="#000" stroke-width="3.5" />
<line x1="1215.00" y1="293.85" x2="1215.00" y2="503.65" stroke="#000" stroke-width="3.5" stroke-linecap="butt"/>
<line x1="1203.50" y1="501.90" x2="1469.80" y2="501.90" stroke="#000" stroke-width="3.5" stroke-linecap="butt"/>
<line x1="1203.50" y1="295.60" x2="1215.00" y2="295.60" stroke="#000" stroke-width="3.5" stroke-linecap="butt"/>
<text x="1200.50" y="302.91" font-size="19.50" font-family='"Liberation Sans", sans-serif' font-weight="bold" fill="#000" text-anchor="end" >2.0</text>
<line x1="1203.50" y1="347.18" x2="1215.00" y2="347.18" stroke="#000" stroke-width="3.5" stroke-linecap="butt"/>
<text x="1200.50" y="354.49" font-size="19.50" font-family='"Liberation Sans", sans-serif' font-weight="bold" fill="#000" text-anchor="end" >1.5</text>
<line x1="1203.50" y1="398.75" x2="1215.00" y2="398.75" stroke="#000" stroke-width="3.5" stroke-linecap="butt"/>
<text x="1200.50" y="406.06" font-size="19.50" font-family='"Liberation Sans", sans-serif' font-weight="bold" fill="#000" text-anchor="end" >1.0</text>
<line x1="1203.50" y1="450.32" x2="1215.00" y2="450.32" stroke="#000" stroke-width="3.5" stroke-linecap="butt"/>
<text x="1200.50" y="457.64" font-size="19.50" font-family='"Liberation Sans", sans-serif' font-weight="bold" fill="#000" text-anchor="end" >0.5</text>
<line x1="1203.50" y1="501.90" x2="1215.00" y2="501.90" stroke="#000" stroke-width="3.5" stroke-linecap="butt"/>
<text x="1200.50" y="509.21" font-size="19.50" font-family='"Liberation Sans", sans-serif' font-weight="bold" fill="#000" text-anchor="end" >0.0</text>
<line x1="1258.75" y1="501.90" x2="1258.75" y2="513.00" stroke="#000" stroke-width="3.5" stroke-linecap="butt"/>
<text x="1258.75" y="535.00" font-size="20.50" font-family='"Liberation Sans", sans-serif' font-weight="bold" fill="#000" text-anchor="middle" >0</text>
<line x1="1314.00" y1="501.90" x2="1314.00" y2="513.00" stroke="#000" stroke-width="3.5" stroke-linecap="butt"/>
<text x="1314.00" y="535.00" font-size="20.50" font-family='"Liberation Sans", sans-serif' font-weight="bold" fill="#000" text-anchor="middle" >25</text>
<line x1="1368.75" y1="501.90" x2="1368.75" y2="513.00" stroke="#000" stroke-width="3.5" stroke-linecap="butt"/>
<text x="1368.75" y="535.00" font-size="20.50" font-family='"Liberation Sans", sans-serif' font-weight="bold" fill="#000" text-anchor="middle" >50</text>
<line x1="1423.50" y1="501.90" x2="1423.50" y2="513.00" stroke="#000" stroke-width="3.5" stroke-linecap="butt"/>
<text x="1423.50" y="535.00" font-size="20.50" font-family='"Liberation Sans", sans-serif' font-weight="bold" fill="#000" text-anchor="middle" >100</text>
<path d="M1263.00 388.30 V279.60 H1424.00 V332.70" fill="none" stroke="#000" stroke-width="3.5" stroke-linejoin="miter"/>
<path d="M1263.00 308.75 H1369.40 V332.70" fill="none" stroke="#000" stroke-width="3.5" stroke-linejoin="miter"/>
<path d="M1263.00 348.30 H1316.00 V382.70" fill="none" stroke="#000" stroke-width="3.5" stroke-linejoin="miter"/>
<text x="1350.42" y="278.81" font-size="20.50" font-family='"Liberation Sans", sans-serif' font-weight="normal" fill="#000" text-anchor="middle" stroke="#000" stroke-width="0.35" letter-spacing="0.85">****</text>
<text x="1318.12" y="308.81" font-size="20.50" font-family='"Liberation Sans", sans-serif' font-weight="normal" fill="#000" text-anchor="middle" stroke="#000" stroke-width="0.35" letter-spacing="0.85">****</text>
<text x="1290.02" y="349.81" font-size="20.50" font-family='"Liberation Sans", sans-serif' font-weight="normal" fill="#000" text-anchor="middle" stroke="#000" stroke-width="0.35" letter-spacing="0.85">***</text>
<text transform="translate(1160.50,496.30) rotate(-90)" x="-1.68" y="0" font-size="25.00" fill="#000" textLength="200.22" lengthAdjust="spacingAndGlyphs" ><tspan font-family='"Liberation Sans", sans-serif' font-weight="bold">Fetuin-B / </tspan><tspan font-family='"Liberation Serif", serif' font-weight="normal">β</tspan><tspan font-family='"Liberation Sans", sans-serif' font-weight="bold">-actin</tspan></text>
<line x1="1798.08" y1="358.75" x2="1798.08" y2="348.30" stroke="#000" stroke-width="3.5" stroke-linecap="butt"/>
<line x1="1779.58" y1="348.30" x2="1816.58" y2="348.30" stroke="#000" stroke-width="3.5" stroke-linecap="butt"/>
<rect x="1762.65" y="358.75" width="70.85" height="138.15" fill="#fff" stroke="#000" stroke-width="3.5" />
<line x1="1891.60" y1="220.50" x2="1891.60" y2="191.70" stroke="#000" stroke-width="3.5" stroke-linecap="butt"/>
<line x1="1873.10" y1="191.70" x2="1910.10" y2="191.70" stroke="#000" stroke-width="3.5" stroke-linecap="butt"/>
<rect x="1856.35" y="220.50" width="70.50" height="276.40" fill="#333" stroke="#000" stroke-width="3.5" />
<line x1="1742.00" y1="142.45" x2="1742.00" y2="498.65" stroke="#000" stroke-width="3.5" stroke-linecap="butt"/>
<line x1="1730.70" y1="496.90" x2="1949.40" y2="496.90" stroke="#000" stroke-width="3.5" stroke-linecap="butt"/>
<line x1="1730.70" y1="144.20" x2="1742.00" y2="144.20" stroke="#000" stroke-width="3.5" stroke-linecap="butt"/>
<text x="1727.70" y="151.51" font-size="19.50" font-family='"Liberation Sans", sans-serif' font-weight="bold" fill="#000" text-anchor="end" >2.5</text>
<line x1="1730.70" y1="214.74" x2="1742.00" y2="214.74" stroke="#000" stroke-width="3.5" stroke-linecap="butt"/>
<text x="1727.70" y="222.05" font-size="19.50" font-family='"Liberation Sans", sans-serif' font-weight="bold" fill="#000" text-anchor="end" >2.0</text>
<line x1="1730.70" y1="285.28" x2="1742.00" y2="285.28" stroke="#000" stroke-width="3.5" stroke-linecap="butt"/>
<text x="1727.70" y="292.59" font-size="19.50" font-family='"Liberation Sans", sans-serif' font-weight="bold" fill="#000" text-anchor="end" >1.5</text>
<line x1="1730.70" y1="355.82" x2="1742.00" y2="355.82" stroke="#000" stroke-width="3.5" stroke-linecap="butt"/>
<text x="1727.70" y="363.13" font-size="19.50" font-family='"Liberation Sans", sans-serif' font-weight="bold" fill="#000" text-anchor="end" >1.0</text>
<line x1="1730.70" y1="426.36" x2="1742.00" y2="426.36" stroke="#000" stroke-width="3.5" stroke-linecap="butt"/>
<text x="1727.70" y="433.67" font-size="19.50" font-family='"Liberation Sans", sans-serif' font-weight="bold" fill="#000" text-anchor="end" >0.5</text>
<line x1="1730.70" y1="496.90" x2="1742.00" y2="496.90" stroke="#000" stroke-width="3.5" stroke-linecap="butt"/>
<text x="1727.70" y="504.21" font-size="19.50" font-family='"Liberation Sans", sans-serif' font-weight="bold" fill="#000" text-anchor="end" >0.0</text>
<line x1="1797.75" y1="496.90" x2="1797.75" y2="507.70" stroke="#000" stroke-width="3.5" stroke-linecap="butt"/>
<text x="1797.75" y="533.75" font-size="23.00" font-family='"Liberation Sans", sans-serif' font-weight="bold" fill="#000" text-anchor="middle" >0</text>
<line x1="1891.00" y1="496.90" x2="1891.00" y2="507.70" stroke="#000" stroke-width="3.5" stroke-linecap="butt"/>
<text x="1891.00" y="533.75" font-size="23.00" font-family='"Liberation Sans", sans-serif' font-weight="bold" fill="#000" text-anchor="middle" >50</text>
<path d="M1797.30 326.50 V163.50 H1891.00 V180.20" fill="none" stroke="#000" stroke-width="3.5" stroke-linejoin="miter"/>
<text x="1843.20" y="166.20" font-size="23.80" font-family='"Liberation Sans", sans-serif' font-weight="normal" fill="#000" text-anchor="middle" stroke="#000" stroke-width="0.35" letter-spacing="0">**</text>
<text transform="translate(1686.50,516.00) rotate(-90)" x="-0.44" y="0" font-size="26.20" fill="#000" textLength="394.36" lengthAdjust="spacingAndGlyphs" ><tspan font-family='"Liberation Sans", sans-serif' font-weight="bold" font-style="italic">FetuB</tspan><tspan font-family='"Liberation Sans", sans-serif' font-weight="normal" stroke="#000" stroke-width="0.7"> mRNA level relative to </tspan><tspan font-family='"Liberation Sans", sans-serif' font-weight="bold" font-style="italic">ActB</tspan></text>
<line x1="229.30" y1="1105.75" x2="229.30" y2="1101.50" stroke="#000" stroke-width="3.5" stroke-linecap="butt"/>
<line x1="215.30" y1="1101.50" x2="243.30" y2="1101.50" stroke="#000" stroke-width="3.5" stroke-linecap="butt"/>
<rect x="203.45" y="1105.75" width="51.70" height="38.45" fill="#fff" stroke="#000" stroke-width="3.5" />
<line x1="299.65" y1="1040.25" x2="299.65" y2="1030.80" stroke="#000" stroke-width="3.5" stroke-linecap="butt"/>
<line x1="285.65" y1="1030.80" x2="313.65" y2="1030.80" stroke="#000" stroke-width="3.5" stroke-linecap="butt"/>
<rect x="273.75" y="1040.25" width="51.80" height="103.95" fill="#d3d3d3" stroke="#000" stroke-width="3.5" />
<line x1="369.90" y1="988.65" x2="369.90" y2="979.20" stroke="#000" stroke-width="3.5" stroke-linecap="butt"/>
<line x1="355.90" y1="979.20" x2="383.90" y2="979.20" stroke="#000" stroke-width="3.5" stroke-linecap="butt"/>
<rect x="344.05" y="988.65" width="51.70" height="155.55" fill="#a0a0a0" stroke="#000" stroke-width="3.5" />
<line x1="172.50" y1="937.25" x2="172.50" y2="1145.95" stroke="#000" stroke-width="3.5" stroke-linecap="butt"/>
<line x1="161.50" y1="1144.20" x2="427.70" y2="1144.20" stroke="#000" stroke-width="3.5" stroke-linecap="butt"/>
<line x1="161.50" y1="939.00" x2="172.50" y2="939.00" stroke="#000" stroke-width="3.5" stroke-linecap="butt"/>
<text x="158.50" y="946.31" font-size="19.50" font-family='"Liberation Sans", sans-serif' font-weight="bold" fill="#000" text-anchor="end" >5</text>
<line x1="161.50" y1="980.04" x2="172.50" y2="980.04" stroke="#000" stroke-width="3.5" stroke-linecap="butt"/>
<text x="158.50" y="987.35" font-size="19.50" font-family='"Liberation Sans", sans-serif' font-weight="bold" fill="#000" text-anchor="end" >4</text>
<line x1="161.50" y1="1021.08" x2="172.50" y2="1021.08" stroke="#000" stroke-width="3.5" stroke-linecap="butt"/>
<text x="158.50" y="1028.39" font-size="19.50" font-family='"Liberation Sans", sans-serif' font-weight="bold" fill="#000" text-anchor="end" >3</text>
<line x1="161.50" y1="1062.12" x2="172.50" y2="1062.12" stroke="#000" stroke-width="3.5" stroke-linecap="butt"/>
<text x="158.50" y="1069.43" font-size="19.50" font-family='"Liberation Sans", sans-serif' font-weight="bold" fill="#000" text-anchor="end" >2</text>
<line x1="161.50" y1="1103.16" x2="172.50" y2="1103.16" stroke="#000" stroke-width="3.5" stroke-linecap="butt"/>
<text x="158.50" y="1110.47" font-size="19.50" font-family='"Liberation Sans", sans-serif' font-weight="bold" fill="#000" text-anchor="end" >1</text>
<line x1="161.50" y1="1144.20" x2="172.50" y2="1144.20" stroke="#000" stroke-width="3.5" stroke-linecap="butt"/>
<text x="158.50" y="1151.51" font-size="19.50" font-family='"Liberation Sans", sans-serif' font-weight="bold" fill="#000" text-anchor="end" >0</text>
<line x1="228.75" y1="1144.20" x2="228.75" y2="1155.00" stroke="#000" stroke-width="3.5" stroke-linecap="butt"/>
<text x="228.75" y="1177.20" font-size="20.50" font-family='"Liberation Sans", sans-serif' font-weight="bold" fill="#000" text-anchor="middle" >0</text>
<line x1="299.20" y1="1144.20" x2="299.20" y2="1155.00" stroke="#000" stroke-width="3.5" stroke-linecap="butt"/>
<text x="299.20" y="1177.20" font-size="20.50" font-family='"Liberation Sans", sans-serif' font-weight="bold" fill="#000" text-anchor="middle" >0.2</text>
<line x1="369.80" y1="1144.20" x2="369.80" y2="1155.00" stroke="#000" stroke-width="3.5" stroke-linecap="butt"/>
<text x="369.80" y="1177.20" font-size="20.50" font-family='"Liberation Sans", sans-serif' font-weight="bold" fill="#000" text-anchor="middle" >0.4</text>
<path d="M229.20 1090.00 V945.40 H369.80 V966.70" fill="none" stroke="#000" stroke-width="3.5" stroke-linejoin="miter"/>
<path d="M229.20 1007.70 H299.60 V1022.50" fill="none" stroke="#000" stroke-width="3.5" stroke-linejoin="miter"/>
<text x="300.95" y="946.36" font-size="21.00" font-family='"Liberation Sans", sans-serif' font-weight="normal" fill="#000" text-anchor="middle" stroke="#000" stroke-width="0.35" letter-spacing="0.7">****</text>
<text x="267.25" y="1011.56" font-size="21.00" font-family='"Liberation Sans", sans-serif' font-weight="normal" fill="#000" text-anchor="middle" stroke="#000" stroke-width="0.35" letter-spacing="0.7">***</text>
<text transform="translate(134.50,1142.70) rotate(-90)" x="-2.09" y="0" font-size="26.00" fill="#000" textLength="207.16" lengthAdjust="spacingAndGlyphs" ><tspan font-family='"Liberation Sans", sans-serif' font-weight="normal" stroke="#000" stroke-width="0.9">Fetuin-B / GAPDH</tspan></text>
<line x1="782.80" y1="982.95" x2="782.80" y2="979.60" stroke="#000" stroke-width="3.5" stroke-linecap="butt"/>
<line x1="764.30" y1="979.60" x2="801.30" y2="979.60" stroke="#000" stroke-width="3.5" stroke-linecap="butt"/>
<rect x="747.35" y="982.95" width="70.90" height="174.75" fill="#fff" stroke="#000" stroke-width="3.5" />
<line x1="876.38" y1="881.95" x2="876.38" y2="878.20" stroke="#000" stroke-width="3.5" stroke-linecap="butt"/>
<line x1="857.88" y1="878.20" x2="894.88" y2="878.20" stroke="#000" stroke-width="3.5" stroke-linecap="butt"/>
<rect x="840.75" y="881.95" width="71.25" height="275.75" fill="#000" stroke="#000" stroke-width="3.5" />
<line x1="726.90" y1="802.85" x2="726.90" y2="1159.45" stroke="#000" stroke-width="3.5" stroke-linecap="butt"/>
<line x1="715.40" y1="1157.70" x2="934.20" y2="1157.70" stroke="#000" stroke-width="3.5" stroke-linecap="butt"/>
<line x1="715.40" y1="804.60" x2="726.90" y2="804.60" stroke="#000" stroke-width="3.5" stroke-linecap="butt"/>
<text x="712.40" y="811.91" font-size="19.50" font-family='"Liberation Sans", sans-serif' font-weight="bold" fill="#000" text-anchor="end" >2.0</text>
<line x1="715.40" y1="892.88" x2="726.90" y2="892.88" stroke="#000" stroke-width="3.5" stroke-linecap="butt"/>
<text x="712.40" y="900.19" font-size="19.50" font-family='"Liberation Sans", sans-serif' font-weight="bold" fill="#000" text-anchor="end" >1.5</text>
<line x1="715.40" y1="981.15" x2="726.90" y2="981.15" stroke="#000" stroke-width="3.5" stroke-linecap="butt"/>
<text x="712.40" y="988.46" font-size="19.50" font-family='"Liberation Sans", sans-serif' font-weight="bold" fill="#000" text-anchor="end" >1.0</text>
<line x1="715.40" y1="1069.43" x2="726.90" y2="1069.43" stroke="#000" stroke-width="3.5" stroke-linecap="butt"/>
<text x="712.40" y="1076.74" font-size="19.50" font-family='"Liberation Sans", sans-serif' font-weight="bold" fill="#000" text-anchor="end" >0.5</text>
<line x1="715.40" y1="1157.70" x2="726.90" y2="1157.70" stroke="#000" stroke-width="3.5" stroke-linecap="butt"/>
<text x="712.40" y="1165.01" font-size="19.50" font-family='"Liberation Sans", sans-serif' font-weight="bold" fill="#000" text-anchor="end" >0.0</text>
<line x1="782.50" y1="1157.70" x2="782.50" y2="1168.75" stroke="#000" stroke-width="3.5" stroke-linecap="butt"/>
<text x="782.50" y="1194.60" font-size="23.00" font-family='"Liberation Sans", sans-serif' font-weight="bold" fill="#000" text-anchor="middle" >0</text>
<line x1="875.80" y1="1157.70" x2="875.80" y2="1168.75" stroke="#000" stroke-width="3.5" stroke-linecap="butt"/>
<text x="875.80" y="1194.60" font-size="23.00" font-family='"Liberation Sans", sans-serif' font-weight="bold" fill="#000" text-anchor="middle" >0.2</text>
<path d="M782.50 965.00 V845.80 H876.25 V861.90" fill="none" stroke="#000" stroke-width="3.5" stroke-linejoin="miter"/>
<text x="830.40" y="840.20" font-size="23.80" font-family='"Liberation Sans", sans-serif' font-weight="normal" fill="#000" text-anchor="middle" stroke="#000" stroke-width="0.35" letter-spacing="0">****</text>
<text transform="translate(672.50,1176.50) rotate(-90)" x="-0.44" y="0" font-size="26.20" fill="#000" textLength="394.36" lengthAdjust="spacingAndGlyphs" ><tspan font-family='"Liberation Sans", sans-serif' font-weight="bold" font-style="italic">FetuB</tspan><tspan font-family='"Liberation Sans", sans-serif' font-weight="normal" stroke="#000" stroke-width="0.7"> mRNA level relative to </tspan><tspan font-family='"Liberation Sans", sans-serif' font-weight="bold" font-style="italic">ActB</tspan></text>
<line x1="1285.45" y1="1051.55" x2="1285.45" y2="1046.70" stroke="#000" stroke-width="3.5" stroke-linecap="butt"/>
<line x1="1277.45" y1="1046.70" x2="1293.45" y2="1046.70" stroke="#000" stroke-width="3.5" stroke-linecap="butt"/>
<rect x="1270.95" y="1051.55" width="29.00" height="80.15" fill="#fff" stroke="#000" stroke-width="3.5" />
<line x1="1326.15" y1="1065.50" x2="1326.15" y2="1059.20" stroke="#000" stroke-width="3.5" stroke-linecap="butt"/>
<line x1="1318.15" y1="1059.20" x2="1334.15" y2="1059.20" stroke="#000" stroke-width="3.5" stroke-linecap="butt"/>
<rect x="1311.75" y="1065.50" width="28.80" height="66.20" fill="#d3d3d3" stroke="#000" stroke-width="3.5" />
<line x1="1366.80" y1="1067.15" x2="1366.80" y2="1062.70" stroke="#000" stroke-width="3.5" stroke-linecap="butt"/>
<line x1="1358.80" y1="1062.70" x2="1374.80" y2="1062.70" stroke="#000" stroke-width="3.5" stroke-linecap="butt"/>
<rect x="1352.35" y="1067.15" width="28.90" height="64.55" fill="#a0a0a0" stroke="#000" stroke-width="3.5" />
<line x1="1407.38" y1="1060.25" x2="1407.38" y2="1056.50" stroke="#000" stroke-width="3.5" stroke-linecap="butt"/>
<line x1="1399.38" y1="1056.50" x2="1415.38" y2="1056.50" stroke="#000" stroke-width="3.5" stroke-linecap="butt"/>
<rect x="1393.00" y="1060.25" width="28.75" height="71.45" fill="#808080" stroke="#000" stroke-width="3.5" />
<line x1="1448.25" y1="1015.75" x2="1448.25" y2="1010.20" stroke="#000" stroke-width="3.5" stroke-linecap="butt"/>
<line x1="1440.25" y1="1010.20" x2="1456.25" y2="1010.20" stroke="#000" stroke-width="3.5" stroke-linecap="butt"/>
<rect x="1433.65" y="1015.75" width="29.20" height="115.95" fill="#606060" stroke="#000" stroke-width="3.5" />
<line x1="1489.10" y1="975.95" x2="1489.10" y2="970.00" stroke="#000" stroke-width="3.5" stroke-linecap="butt"/>
<line x1="1481.10" y1="970.00" x2="1497.10" y2="970.00" stroke="#000" stroke-width="3.5" stroke-linecap="butt"/>
<rect x="1474.75" y="975.95" width="28.70" height="155.75" fill="#383838" stroke="#000" stroke-width="3.5" />
<line x1="1261.50" y1="923.85" x2="1261.50" y2="1133.45" stroke="#000" stroke-width="3.5" stroke-linecap="butt"/>
<line x1="1250.00" y1="1131.70" x2="1515.60" y2="1131.70" stroke="#000" stroke-width="3.5" stroke-linecap="butt"/>
<line x1="1250.00" y1="925.60" x2="1261.50" y2="925.60" stroke="#000" stroke-width="3.5" stroke-linecap="butt"/>
<text x="1247.00" y="932.91" font-size="19.50" font-family='"Liberation Sans", sans-serif' font-weight="bold" fill="#000" text-anchor="end" >2.5</text>
<line x1="1250.00" y1="966.82" x2="1261.50" y2="966.82" stroke="#000" stroke-width="3.5" stroke-linecap="butt"/>
<text x="1247.00" y="974.13" font-size="19.50" font-family='"Liberation Sans", sans-serif' font-weight="bold" fill="#000" text-anchor="end" >2.0</text>
<line x1="1250.00" y1="1008.04" x2="1261.50" y2="1008.04" stroke="#000" stroke-width="3.5" stroke-linecap="butt"/>
<text x="1247.00" y="1015.35" font-size="19.50" font-family='"Liberation Sans", sans-serif' font-weight="bold" fill="#000" text-anchor="end" >1.5</text>
<line x1="1250.00" y1="1049.26" x2="1261.50" y2="1049.26" stroke="#000" stroke-width="3.5" stroke-linecap="butt"/>
<text x="1247.00" y="1056.57" font-size="19.50" font-family='"Liberation Sans", sans-serif' font-weight="bold" fill="#000" text-anchor="end" >1.0</text>
<line x1="1250.00" y1="1090.48" x2="1261.50" y2="1090.48" stroke="#000" stroke-width="3.5" stroke-linecap="butt"/>
<text x="1247.00" y="1097.79" font-size="19.50" font-family='"Liberation Sans", sans-serif' font-weight="bold" fill="#000" text-anchor="end" >0.5</text>
<line x1="1250.00" y1="1131.70" x2="1261.50" y2="1131.70" stroke="#000" stroke-width="3.5" stroke-linecap="butt"/>
<text x="1247.00" y="1139.01" font-size="19.50" font-family='"Liberation Sans", sans-serif' font-weight="bold" fill="#000" text-anchor="end" >0.0</text>
<line x1="1285.40" y1="1131.70" x2="1285.40" y2="1143.00" stroke="#000" stroke-width="3.5" stroke-linecap="butt"/>
<text transform="translate(1291.10,1160.20) rotate(-45)" font-size="20.50" font-family='"Liberation Sans", sans-serif' font-weight="bold" text-anchor="end">0</text>
<line x1="1326.00" y1="1131.70" x2="1326.00" y2="1143.00" stroke="#000" stroke-width="3.5" stroke-linecap="butt"/>
<text transform="translate(1331.70,1160.20) rotate(-45)" font-size="20.50" font-family='"Liberation Sans", sans-serif' font-weight="bold" text-anchor="end">0.125</text>
<line x1="1366.70" y1="1131.70" x2="1366.70" y2="1143.00" stroke="#000" stroke-width="3.5" stroke-linecap="butt"/>
<text transform="translate(1372.40,1160.20) rotate(-45)" font-size="20.50" font-family='"Liberation Sans", sans-serif' font-weight="bold" text-anchor="end">0.25</text>
<line x1="1407.30" y1="1131.70" x2="1407.30" y2="1143.00" stroke="#000" stroke-width="3.5" stroke-linecap="butt"/>
<text transform="translate(1413.00,1160.20) rotate(-45)" font-size="20.50" font-family='"Liberation Sans", sans-serif' font-weight="bold" text-anchor="end">0.5</text>
<line x1="1448.30" y1="1131.70" x2="1448.30" y2="1143.00" stroke="#000" stroke-width="3.5" stroke-linecap="butt"/>
<text transform="translate(1454.00,1160.20) rotate(-45)" font-size="20.50" font-family='"Liberation Sans", sans-serif' font-weight="bold" text-anchor="end">0.75</text>
<line x1="1489.00" y1="1131.70" x2="1489.00" y2="1143.00" stroke="#000" stroke-width="3.5" stroke-linecap="butt"/>
<text transform="translate(1494.70,1160.20) rotate(-45)" font-size="20.50" font-family='"Liberation Sans", sans-serif' font-weight="bold" text-anchor="end">1.0</text>
<path d="M1285.40 1034.60 V926.25 H1488.50 V959.80" fill="none" stroke="#000" stroke-width="3.5" stroke-linejoin="miter"/>
<path d="M1285.40 974.20 H1446.25 V997.00" fill="none" stroke="#000" stroke-width="3.5" stroke-linejoin="miter"/>
<text x="1388.35" y="923.96" font-size="21.00" font-family='"Liberation Sans", sans-serif' font-weight="normal" fill="#000" text-anchor="middle" stroke="#000" stroke-width="0.35" letter-spacing="0.7">****</text>
<text x="1368.35" y="974.26" font-size="21.00" font-family='"Liberation Sans", sans-serif' font-weight="normal" fill="#000" text-anchor="middle" stroke="#000" stroke-width="0.35" letter-spacing="0.7">****</text>
<text transform="translate(1205.50,1126.00) rotate(-90)" x="-1.67" y="0" font-size="25.00" fill="#000" textLength="199.20" lengthAdjust="spacingAndGlyphs" ><tspan font-family='"Liberation Sans", sans-serif' font-weight="bold">Fetuin-B / </tspan><tspan font-family='"Liberation Serif", serif' font-weight="normal">β</tspan><tspan font-family='"Liberation Sans", sans-serif' font-weight="bold">-actin</tspan></text>
<line x1="1755.65" y1="1094.75" x2="1755.65" y2="1089.40" stroke="#000" stroke-width="3.5" stroke-linecap="butt"/>
<line x1="1746.15" y1="1089.40" x2="1765.15" y2="1089.40" stroke="#000" stroke-width="3.5" stroke-linecap="butt"/>
<rect x="1738.05" y="1094.75" width="35.20" height="33.25" fill="#fff" stroke="#000" stroke-width="3.5" />
<line x1="1804.53" y1="1062.55" x2="1804.53" y2="1056.00" stroke="#000" stroke-width="3.5" stroke-linecap="butt"/>
<line x1="1795.03" y1="1056.00" x2="1814.03" y2="1056.00" stroke="#000" stroke-width="3.5" stroke-linecap="butt"/>
<rect x="1787.00" y="1062.55" width="35.05" height="65.45" fill="#d3d3d3" stroke="#000" stroke-width="3.5" />
<line x1="1853.47" y1="1089.75" x2="1853.47" y2="1081.25" stroke="#000" stroke-width="3.5" stroke-linecap="butt"/>
<line x1="1843.97" y1="1081.25" x2="1862.97" y2="1081.25" stroke="#000" stroke-width="3.5" stroke-linecap="butt"/>
<rect x="1835.95" y="1089.75" width="35.05" height="38.25" fill="#a0a0a0" stroke="#000" stroke-width="3.5" />
<line x1="1902.03" y1="1073.00" x2="1902.03" y2="1058.75" stroke="#000" stroke-width="3.5" stroke-linecap="butt"/>
<line x1="1892.53" y1="1058.75" x2="1911.53" y2="1058.75" stroke="#000" stroke-width="3.5" stroke-linecap="butt"/>
<rect x="1884.50" y="1073.00" width="35.05" height="55.00" fill="#808080" stroke="#000" stroke-width="3.5" />
<line x1="1950.75" y1="1016.35" x2="1950.75" y2="993.50" stroke="#000" stroke-width="3.5" stroke-linecap="butt"/>
<line x1="1941.25" y1="993.50" x2="1960.25" y2="993.50" stroke="#000" stroke-width="3.5" stroke-linecap="butt"/>
<rect x="1933.45" y="1016.35" width="34.60" height="111.65" fill="#606060" stroke="#000" stroke-width="3.5" />
<line x1="1999.75" y1="864.75" x2="1999.75" y2="840.00" stroke="#000" stroke-width="3.5" stroke-linecap="butt"/>
<line x1="1990.25" y1="840.00" x2="2009.25" y2="840.00" stroke="#000" stroke-width="3.5" stroke-linecap="butt"/>
<rect x="1982.45" y="864.75" width="34.60" height="263.25" fill="#383838" stroke="#000" stroke-width="3.5" />
<line x1="1726.50" y1="772.00" x2="1726.50" y2="1129.75" stroke="#000" stroke-width="3.5" stroke-linecap="butt"/>
<line x1="1715.00" y1="1128.00" x2="2031.00" y2="1128.00" stroke="#000" stroke-width="3.5" stroke-linecap="butt"/>
<line x1="1715.00" y1="773.75" x2="1726.50" y2="773.75" stroke="#000" stroke-width="3.5" stroke-linecap="butt"/>
<text x="1712.00" y="781.06" font-size="19.50" font-family='"Liberation Sans", sans-serif' font-weight="bold" fill="#000" text-anchor="end" >10</text>
<line x1="1715.00" y1="844.60" x2="1726.50" y2="844.60" stroke="#000" stroke-width="3.5" stroke-linecap="butt"/>
<text x="1712.00" y="851.91" font-size="19.50" font-family='"Liberation Sans", sans-serif' font-weight="bold" fill="#000" text-anchor="end" >8</text>
<line x1="1715.00" y1="915.45" x2="1726.50" y2="915.45" stroke="#000" stroke-width="3.5" stroke-linecap="butt"/>
<text x="1712.00" y="922.76" font-size="19.50" font-family='"Liberation Sans", sans-serif' font-weight="bold" fill="#000" text-anchor="end" >6</text>
<line x1="1715.00" y1="986.30" x2="1726.50" y2="986.30" stroke="#000" stroke-width="3.5" stroke-linecap="butt"/>
<text x="1712.00" y="993.61" font-size="19.50" font-family='"Liberation Sans", sans-serif' font-weight="bold" fill="#000" text-anchor="end" >4</text>
<line x1="1715.00" y1="1057.15" x2="1726.50" y2="1057.15" stroke="#000" stroke-width="3.5" stroke-linecap="butt"/>
<text x="1712.00" y="1064.46" font-size="19.50" font-family='"Liberation Sans", sans-serif' font-weight="bold" fill="#000" text-anchor="end" >2</text>
<line x1="1715.00" y1="1128.00" x2="1726.50" y2="1128.00" stroke="#000" stroke-width="3.5" stroke-linecap="butt"/>
<text x="1712.00" y="1135.31" font-size="19.50" font-family='"Liberation Sans", sans-serif' font-weight="bold" fill="#000" text-anchor="end" >0</text>
<line x1="1755.70" y1="1128.00" x2="1755.70" y2="1139.00" stroke="#000" stroke-width="3.5" stroke-linecap="butt"/>
<text x="1755.70" y="1160.60" font-size="20.50" font-family='"Liberation Sans", sans-serif' font-weight="bold" fill="#000" text-anchor="middle" >0</text>
<line x1="1804.20" y1="1128.00" x2="1804.20" y2="1139.00" stroke="#000" stroke-width="3.5" stroke-linecap="butt"/>
<text x="1804.20" y="1160.60" font-size="20.50" font-family='"Liberation Sans", sans-serif' font-weight="bold" fill="#000" text-anchor="middle" >0.125</text>
<line x1="1853.20" y1="1128.00" x2="1853.20" y2="1139.00" stroke="#000" stroke-width="3.5" stroke-linecap="butt"/>
<text x="1853.20" y="1160.60" font-size="20.50" font-family='"Liberation Sans", sans-serif' font-weight="bold" fill="#000" text-anchor="middle" >0.25</text>
<line x1="1902.00" y1="1128.00" x2="1902.00" y2="1139.00" stroke="#000" stroke-width="3.5" stroke-linecap="butt"/>
<text x="1902.00" y="1160.60" font-size="20.50" font-family='"Liberation Sans", sans-serif' font-weight="bold" fill="#000" text-anchor="middle" >0.5</text>
<line x1="1950.90" y1="1128.00" x2="1950.90" y2="1139.00" stroke="#000" stroke-width="3.5" stroke-linecap="butt"/>
<text x="1950.90" y="1160.60" font-size="20.50" font-family='"Liberation Sans", sans-serif' font-weight="bold" fill="#000" text-anchor="middle" >0.75</text>
<line x1="1999.40" y1="1128.00" x2="1999.40" y2="1139.00" stroke="#000" stroke-width="3.5" stroke-linecap="butt"/>
<text x="1999.40" y="1160.60" font-size="20.50" font-family='"Liberation Sans", sans-serif' font-weight="bold" fill="#000" text-anchor="middle" >1.0</text>
<path d="M1757.00 1071.25 V801.90 H1999.00 V827.50" fill="none" stroke="#000" stroke-width="3.5" stroke-linejoin="miter"/>
<path d="M1757.00 952.50 H1952.50 V979.60" fill="none" stroke="#000" stroke-width="3.5" stroke-linejoin="miter"/>
<text x="1882.00" y="803.70" font-size="23.80" font-family='"Liberation Sans", sans-serif' font-weight="normal" fill="#000" text-anchor="middle" stroke="#000" stroke-width="0.35" letter-spacing="0">****</text>
<text x="1845.25" y="954.70" font-size="23.80" font-family='"Liberation Sans", sans-serif' font-weight="normal" fill="#000" text-anchor="middle" stroke="#000" stroke-width="0.35" letter-spacing="0">*</text>
<text transform="translate(1677.00,1146.25) rotate(-90)" x="-0.44" y="0" font-size="26.20" fill="#000" textLength="394.06" lengthAdjust="spacingAndGlyphs" ><tspan font-family='"Liberation Sans", sans-serif' font-weight="bold" font-style="italic">FetuB</tspan><tspan font-family='"Liberation Sans", sans-serif' font-weight="normal" stroke="#000" stroke-width="0.7"> mRNA level relative to </tspan><tspan font-family='"Liberation Sans", sans-serif' font-weight="bold" font-style="italic">ActB</tspan></text>
<line x1="184.60" y1="1608.25" x2="184.60" y2="1599.40" stroke="#000" stroke-width="3.5" stroke-linecap="butt"/>
<line x1="166.10" y1="1599.40" x2="203.10" y2="1599.40" stroke="#000" stroke-width="3.5" stroke-linecap="butt"/>
<rect x="149.05" y="1608.25" width="71.10" height="173.75" fill="#fff" stroke="#000" stroke-width="3.5" />
<line x1="278.30" y1="1511.95" x2="278.30" y2="1498.30" stroke="#000" stroke-width="3.5" stroke-linecap="butt"/>
<line x1="259.80" y1="1498.30" x2="296.80" y2="1498.30" stroke="#000" stroke-width="3.5" stroke-linecap="butt"/>
<rect x="242.75" y="1511.95" width="71.10" height="270.05" fill="#000" stroke="#000" stroke-width="3.5" />
<line x1="128.75" y1="1426.75" x2="128.75" y2="1783.75" stroke="#000" stroke-width="3.5" stroke-linecap="butt"/>
<line x1="117.00" y1="1782.00" x2="335.80" y2="1782.00" stroke="#000" stroke-width="3.5" stroke-linecap="butt"/>
<line x1="117.00" y1="1428.50" x2="128.75" y2="1428.50" stroke="#000" stroke-width="3.5" stroke-linecap="butt"/>
<text x="114.00" y="1435.81" font-size="19.50" font-family='"Liberation Sans", sans-serif' font-weight="bold" fill="#000" text-anchor="end" >2.0</text>
<line x1="117.00" y1="1516.88" x2="128.75" y2="1516.88" stroke="#000" stroke-width="3.5" stroke-linecap="butt"/>
<text x="114.00" y="1524.19" font-size="19.50" font-family='"Liberation Sans", sans-serif' font-weight="bold" fill="#000" text-anchor="end" >1.5</text>
<line x1="117.00" y1="1605.25" x2="128.75" y2="1605.25" stroke="#000" stroke-width="3.5" stroke-linecap="butt"/>
<text x="114.00" y="1612.56" font-size="19.50" font-family='"Liberation Sans", sans-serif' font-weight="bold" fill="#000" text-anchor="end" >1.0</text>
<line x1="117.00" y1="1693.62" x2="128.75" y2="1693.62" stroke="#000" stroke-width="3.5" stroke-linecap="butt"/>
<text x="114.00" y="1700.94" font-size="19.50" font-family='"Liberation Sans", sans-serif' font-weight="bold" fill="#000" text-anchor="end" >0.5</text>
<line x1="117.00" y1="1782.00" x2="128.75" y2="1782.00" stroke="#000" stroke-width="3.5" stroke-linecap="butt"/>
<text x="114.00" y="1789.31" font-size="19.50" font-family='"Liberation Sans", sans-serif' font-weight="bold" fill="#000" text-anchor="end" >0.0</text>
<line x1="184.00" y1="1782.00" x2="184.00" y2="1793.00" stroke="#000" stroke-width="3.5" stroke-linecap="butt"/>
<text x="184.00" y="1815.60" font-size="20.00" font-family='"Liberation Sans", sans-serif' font-weight="bold" fill="#000" text-anchor="middle" >0</text>
<line x1="277.70" y1="1782.00" x2="277.70" y2="1793.00" stroke="#000" stroke-width="3.5" stroke-linecap="butt"/>
<text x="277.70" y="1815.60" font-size="20.00" font-family='"Liberation Sans", sans-serif' font-weight="bold" fill="#000" text-anchor="middle" >0.2</text>
<path d="M183.30 1583.50 V1471.25 H277.70 V1486.90" fill="none" stroke="#000" stroke-width="3.5" stroke-linejoin="miter"/>
<text x="230.20" y="1475.20" font-size="23.80" font-family='"Liberation Sans", sans-serif' font-weight="normal" fill="#000" text-anchor="middle" stroke="#000" stroke-width="0.35" letter-spacing="0">**</text>
<text transform="translate(73.50,1796.70) rotate(-90)" x="-0.45" y="0" font-size="26.20" fill="#000" textLength="387.36" lengthAdjust="spacingAndGlyphs" ><tspan font-family='"Liberation Sans", sans-serif' font-weight="bold" font-style="italic">LepR</tspan><tspan font-family='"Liberation Sans", sans-serif' font-weight="normal" stroke="#000" stroke-width="0.7"> mRNA level relative to </tspan><tspan font-family='"Liberation Sans", sans-serif' font-weight="bold" font-style="italic">ActB</tspan></text>
<line x1="727.60" y1="1714.05" x2="727.60" y2="1708.00" stroke="#000" stroke-width="3.5" stroke-linecap="butt"/>
<line x1="718.10" y1="1708.00" x2="737.10" y2="1708.00" stroke="#000" stroke-width="3.5" stroke-linecap="butt"/>
<rect x="710.05" y="1714.05" width="35.10" height="67.65" fill="#fff" stroke="#000" stroke-width="3.5" />
<line x1="776.55" y1="1706.75" x2="776.55" y2="1703.30" stroke="#000" stroke-width="3.5" stroke-linecap="butt"/>
<line x1="767.05" y1="1703.30" x2="786.05" y2="1703.30" stroke="#000" stroke-width="3.5" stroke-linecap="butt"/>
<rect x="759.05" y="1706.75" width="35.00" height="74.95" fill="#d3d3d3" stroke="#000" stroke-width="3.5" />
<line x1="825.10" y1="1637.35" x2="825.10" y2="1624.80" stroke="#000" stroke-width="3.5" stroke-linecap="butt"/>
<line x1="815.60" y1="1624.80" x2="834.60" y2="1624.80" stroke="#000" stroke-width="3.5" stroke-linecap="butt"/>
<rect x="807.55" y="1637.35" width="35.10" height="144.35" fill="#a0a0a0" stroke="#000" stroke-width="3.5" />
<line x1="873.80" y1="1609.75" x2="873.80" y2="1575.20" stroke="#000" stroke-width="3.5" stroke-linecap="butt"/>
<line x1="864.30" y1="1575.20" x2="883.30" y2="1575.20" stroke="#000" stroke-width="3.5" stroke-linecap="butt"/>
<rect x="856.35" y="1609.75" width="34.90" height="171.95" fill="#808080" stroke="#000" stroke-width="3.5" />
<line x1="922.75" y1="1541.75" x2="922.75" y2="1532.00" stroke="#000" stroke-width="3.5" stroke-linecap="butt"/>
<line x1="913.25" y1="1532.00" x2="932.25" y2="1532.00" stroke="#000" stroke-width="3.5" stroke-linecap="butt"/>
<rect x="905.25" y="1541.75" width="35.00" height="239.95" fill="#606060" stroke="#000" stroke-width="3.5" />
<line x1="971.55" y1="1532.35" x2="971.55" y2="1496.25" stroke="#000" stroke-width="3.5" stroke-linecap="butt"/>
<line x1="962.05" y1="1496.25" x2="981.05" y2="1496.25" stroke="#000" stroke-width="3.5" stroke-linecap="butt"/>
<rect x="954.25" y="1532.35" width="34.60" height="249.35" fill="#383838" stroke="#000" stroke-width="3.5" />
<line x1="698.30" y1="1426.75" x2="698.30" y2="1783.45" stroke="#000" stroke-width="3.5" stroke-linecap="butt"/>
<line x1="687.00" y1="1781.70" x2="1002.50" y2="1781.70" stroke="#000" stroke-width="3.5" stroke-linecap="butt"/>
<line x1="687.00" y1="1428.50" x2="698.30" y2="1428.50" stroke="#000" stroke-width="3.5" stroke-linecap="butt"/>
<text x="684.00" y="1435.81" font-size="19.50" font-family='"Liberation Sans", sans-serif' font-weight="bold" fill="#000" text-anchor="end" >5</text>
<line x1="687.00" y1="1499.14" x2="698.30" y2="1499.14" stroke="#000" stroke-width="3.5" stroke-linecap="butt"/>
<text x="684.00" y="1506.45" font-size="19.50" font-family='"Liberation Sans", sans-serif' font-weight="bold" fill="#000" text-anchor="end" >4</text>
<line x1="687.00" y1="1569.78" x2="698.30" y2="1569.78" stroke="#000" stroke-width="3.5" stroke-linecap="butt"/>
<text x="684.00" y="1577.09" font-size="19.50" font-family='"Liberation Sans", sans-serif' font-weight="bold" fill="#000" text-anchor="end" >3</text>
<line x1="687.00" y1="1640.42" x2="698.30" y2="1640.42" stroke="#000" stroke-width="3.5" stroke-linecap="butt"/>
<text x="684.00" y="1647.73" font-size="19.50" font-family='"Liberation Sans", sans-serif' font-weight="bold" fill="#000" text-anchor="end" >2</text>
<line x1="687.00" y1="1711.06" x2="698.30" y2="1711.06" stroke="#000" stroke-width="3.5" stroke-linecap="butt"/>
<text x="684.00" y="1718.37" font-size="19.50" font-family='"Liberation Sans", sans-serif' font-weight="bold" fill="#000" text-anchor="end" >1</text>
<line x1="687.00" y1="1781.70" x2="698.30" y2="1781.70" stroke="#000" stroke-width="3.5" stroke-linecap="butt"/>
<text x="684.00" y="1789.01" font-size="19.50" font-family='"Liberation Sans", sans-serif' font-weight="bold" fill="#000" text-anchor="end" >0</text>
<line x1="727.00" y1="1781.70" x2="727.00" y2="1792.50" stroke="#000" stroke-width="3.5" stroke-linecap="butt"/>
<text x="727.00" y="1815.00" font-size="20.50" font-family='"Liberation Sans", sans-serif' font-weight="bold" fill="#000" text-anchor="middle" >0</text>
<line x1="776.00" y1="1781.70" x2="776.00" y2="1792.50" stroke="#000" stroke-width="3.5" stroke-linecap="butt"/>
<text x="776.00" y="1815.00" font-size="20.50" font-family='"Liberation Sans", sans-serif' font-weight="bold" fill="#000" text-anchor="middle" >0.125</text>
<line x1="824.60" y1="1781.70" x2="824.60" y2="1792.50" stroke="#000" stroke-width="3.5" stroke-linecap="butt"/>
<text x="824.60" y="1815.00" font-size="20.50" font-family='"Liberation Sans", sans-serif' font-weight="bold" fill="#000" text-anchor="middle" >0.25</text>
<line x1="873.50" y1="1781.70" x2="873.50" y2="1792.50" stroke="#000" stroke-width="3.5" stroke-linecap="butt"/>
<text x="873.50" y="1815.00" font-size="20.50" font-family='"Liberation Sans", sans-serif' font-weight="bold" fill="#000" text-anchor="middle" >0.5</text>
<line x1="922.50" y1="1781.70" x2="922.50" y2="1792.50" stroke="#000" stroke-width="3.5" stroke-linecap="butt"/>
<text x="922.50" y="1815.00" font-size="20.50" font-family='"Liberation Sans", sans-serif' font-weight="bold" fill="#000" text-anchor="middle" >0.75</text>
<line x1="971.25" y1="1781.70" x2="971.25" y2="1792.50" stroke="#000" stroke-width="3.5" stroke-linecap="butt"/>
<text x="971.25" y="1815.00" font-size="20.50" font-family='"Liberation Sans", sans-serif' font-weight="bold" fill="#000" text-anchor="middle" >1.0</text>
<path d="M727.50 1701.90 V1467.70 H971.25 V1486.90" fill="none" stroke="#000" stroke-width="3.5" stroke-linejoin="miter"/>
<path d="M727.50 1501.50 H922.50 V1528.50" fill="none" stroke="#000" stroke-width="3.5" stroke-linejoin="miter"/>
<path d="M727.50 1548.00 H874.00 V1564.50" fill="none" stroke="#000" stroke-width="3.5" stroke-linejoin="miter"/>
<text x="845.20" y="1468.90" font-size="23.80" font-family='"Liberation Sans", sans-serif' font-weight="normal" fill="#000" text-anchor="middle" stroke="#000" stroke-width="0.35" letter-spacing="0">***</text>
<text x="826.00" y="1503.70" font-size="23.80" font-family='"Liberation Sans", sans-serif' font-weight="normal" fill="#000" text-anchor="middle" stroke="#000" stroke-width="0.35" letter-spacing="0">***</text>
<text x="808.00" y="1550.20" font-size="23.80" font-family='"Liberation Sans", sans-serif' font-weight="normal" fill="#000" text-anchor="middle" stroke="#000" stroke-width="0.35" letter-spacing="0">*</text>
<text transform="translate(660.00,1796.70) rotate(-90)" x="-0.45" y="0" font-size="26.20" fill="#000" textLength="387.66" lengthAdjust="spacingAndGlyphs" ><tspan font-family='"Liberation Sans", sans-serif' font-weight="bold" font-style="italic">LepR</tspan><tspan font-family='"Liberation Sans", sans-serif' font-weight="normal" stroke="#000" stroke-width="0.7"> mRNA level relative to </tspan><tspan font-family='"Liberation Sans", sans-serif' font-weight="bold" font-style="italic">ActB</tspan></text>
</svg>
</body></html>
